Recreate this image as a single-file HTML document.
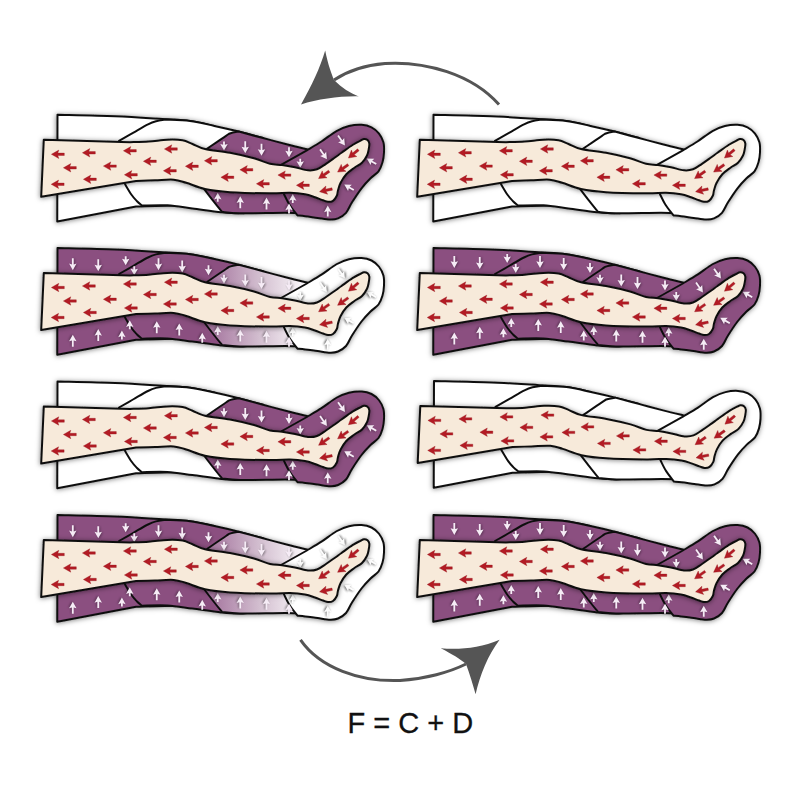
<!DOCTYPE html>
<html><head><meta charset="utf-8"><style>
html,body{margin:0;padding:0;background:#fff;}
body{width:800px;height:800px;overflow:hidden;position:relative;}
svg{position:absolute;left:0;top:0;}
.t{position:absolute;left:347.5px;top:707px;white-space:pre;font-family:"Liberation Sans",sans-serif;font-size:29px;line-height:normal;color:#111;-webkit-text-stroke:0.3px #111;}
</style></head><body>
<svg width="800" height="800" viewBox="0 0 800 800">
<defs>
<filter id="sh" x="-10%" y="-20%" width="120%" height="150%">
  <feDropShadow dx="-0.3" dy="0.6" stdDeviation="2.4" flood-color="#000" flood-opacity="0.5"/>
</filter>
<filter id="ab" x="-50%" y="-50%" width="200%" height="200%"><feGaussianBlur stdDeviation="0.8"/></filter>
<linearGradient id="gradL2" gradientUnits="userSpaceOnUse" x1="205" y1="0" x2="305" y2="0">
  <stop offset="0" stop-color="#a06d99"/><stop offset="0.55" stop-color="#d3bfd0"/><stop offset="1" stop-color="#fbf8fb"/>
</linearGradient>
<linearGradient id="gradL4" gradientUnits="userSpaceOnUse" x1="205" y1="0" x2="305" y2="0">
  <stop offset="0" stop-color="#a06d99"/><stop offset="0.55" stop-color="#d3bfd0"/><stop offset="1" stop-color="#fbf8fb"/>
</linearGradient>
</defs>
<g transform="translate(0.00,0.30)">
<g filter="url(#sh)">
<path d="M57.50,114.50 C67.08,114.75 97.50,115.29 115.00,116.00 C132.50,116.71 150.00,117.97 162.50,118.75 C175.00,119.53 181.35,119.56 190.00,120.70 C198.65,121.84 210.33,124.78 214.40,125.60 L214.40,207.00 C208.67,206.72 193.07,205.43 180.00,205.30 C166.93,205.18 143.33,206.09 136.00,206.25 L57.25,221.30 L57.50,114.50 Z" fill="#fff" stroke="#111" stroke-width="2.00" stroke-linejoin="round"/>
<path d="M119.00,140.50 C121.33,139.17 128.17,135.25 133.00,132.50 C137.83,129.75 144.17,125.93 148.00,124.00 C151.83,122.07 153.00,121.68 156.00,120.90 C159.00,120.12 164.33,119.57 166.00,119.30 C170.00,119.53 181.93,119.65 190.00,120.70 C198.07,121.75 206.28,123.84 214.40,125.60 C222.53,127.36 230.65,129.22 238.75,131.25 C246.85,133.28 258.96,136.67 263.00,137.75 L263.00,211.00 C259.17,211.33 246.96,212.85 240.00,213.00 C233.04,213.15 229.17,212.72 221.25,211.90 C213.33,211.08 201.46,209.25 192.50,208.10 C183.54,206.95 175.92,205.48 167.50,205.00 C159.08,204.52 146.25,205.17 142.00,205.20 C141.12,204.45 138.50,202.48 136.75,200.70 C135.00,198.92 133.54,197.45 131.50,194.50 C129.46,191.55 125.67,184.92 124.50,183.00 L119.00,140.50 Z" fill="#fff" stroke="#111" stroke-width="2.00" stroke-linejoin="round"/>
<path d="M206.25,149.00 C209.54,146.75 221.94,138.18 226.00,135.50 C230.06,132.82 228.47,133.61 230.60,132.90 C232.72,132.19 237.39,131.53 238.75,131.25 C242.79,132.33 254.88,135.58 263.00,137.75 C271.12,139.92 280.17,142.38 287.50,144.25 C294.83,146.12 303.75,148.21 307.00,149.00 L307.00,213.00 C303.33,212.92 296.17,212.50 285.00,212.50 C273.83,212.50 250.50,213.17 240.00,213.00 C229.50,212.83 225.00,211.75 222.00,211.50 C220.33,209.42 215.00,202.83 212.00,199.00 C209.00,195.17 205.33,190.25 204.00,188.50 L206.25,149.00 Z" fill="#8b4f80" stroke="#111" stroke-width="2.00" stroke-linejoin="round"/>
<path d="M281.00,164.50 L306.90,150.00 C309.33,148.53 316.57,144.41 321.50,141.20 C326.43,137.99 331.92,133.32 336.50,130.75 C341.08,128.18 344.83,126.79 349.00,125.75 C353.17,124.71 357.75,124.29 361.50,124.50 C365.25,124.71 368.58,125.54 371.50,127.00 C374.42,128.46 377.02,130.75 379.00,133.25 C380.98,135.75 382.57,138.88 383.40,142.00 C384.23,145.12 384.15,148.67 384.00,152.00 C383.85,155.33 383.42,158.83 382.50,162.00 C381.58,165.17 380.50,168.33 378.50,171.00 C376.50,173.67 373.33,175.17 370.50,178.00 C367.67,180.83 364.58,184.00 361.50,188.00 C358.42,192.00 354.58,197.92 352.00,202.00 C349.42,206.08 348.33,209.83 346.00,212.50 C343.67,215.17 340.62,216.88 338.00,218.00 C335.38,219.12 333.62,219.27 330.25,219.20 C326.88,219.13 321.92,218.15 317.75,217.60 C313.58,217.05 308.62,216.30 305.25,215.90 C301.88,215.50 298.79,215.32 297.50,215.20 C296.17,213.42 291.75,208.05 289.50,204.50 C287.25,200.95 284.92,195.67 284.00,193.90 L281.00,164.50 Z" fill="#8b4f80" stroke="#111" stroke-width="2.00" stroke-linejoin="round"/>
</g>
<g transform="translate(224.00,145.70) rotate(0.0)"><path d="M-0.9,-4.50 L0.9,-4.50 L0.9,-1.30 L3.7,-2.10 L0,4.50 L-3.7,-2.10 L-0.9,-1.30 Z" fill="#000" opacity="0.35" transform="translate(1.0,0.5)" filter="url(#ab)"/><path d="M-0.9,-4.50 L0.9,-4.50 L0.9,-1.30 L3.7,-2.10 L0,4.50 L-3.7,-2.10 L-0.9,-1.30 Z" fill="#f6ecf6"/></g>
<g transform="translate(245.25,147.00) rotate(0.0)"><path d="M-0.9,-6.00 L0.9,-6.00 L0.9,0.20 L3.7,-0.60 L0,6.00 L-3.7,-0.60 L-0.9,0.20 Z" fill="#000" opacity="0.35" transform="translate(1.0,0.5)" filter="url(#ab)"/><path d="M-0.9,-6.00 L0.9,-6.00 L0.9,0.20 L3.7,-0.60 L0,6.00 L-3.7,-0.60 L-0.9,0.20 Z" fill="#f6ecf6"/></g>
<g transform="translate(261.50,149.50) rotate(0.0)"><path d="M-0.9,-6.00 L0.9,-6.00 L0.9,0.20 L3.7,-0.60 L0,6.00 L-3.7,-0.60 L-0.9,0.20 Z" fill="#000" opacity="0.35" transform="translate(1.0,0.5)" filter="url(#ab)"/><path d="M-0.9,-6.00 L0.9,-6.00 L0.9,0.20 L3.7,-0.60 L0,6.00 L-3.7,-0.60 L-0.9,0.20 Z" fill="#f6ecf6"/></g>
<g transform="translate(289.00,152.00) rotate(0.0)"><path d="M-0.9,-5.00 L0.9,-5.00 L0.9,-0.80 L3.7,-1.60 L0,5.00 L-3.7,-1.60 L-0.9,-0.80 Z" fill="#000" opacity="0.35" transform="translate(1.0,0.5)" filter="url(#ab)"/><path d="M-0.9,-5.00 L0.9,-5.00 L0.9,-0.80 L3.7,-1.60 L0,5.00 L-3.7,-1.60 L-0.9,-0.80 Z" fill="#f6ecf6"/></g>
<g transform="translate(300.25,163.00) rotate(0.0)"><path d="M-0.9,-4.50 L0.9,-4.50 L0.9,-1.30 L3.7,-2.10 L0,4.50 L-3.7,-2.10 L-0.9,-1.30 Z" fill="#000" opacity="0.35" transform="translate(1.0,0.5)" filter="url(#ab)"/><path d="M-0.9,-4.50 L0.9,-4.50 L0.9,-1.30 L3.7,-2.10 L0,4.50 L-3.7,-2.10 L-0.9,-1.30 Z" fill="#f6ecf6"/></g>
<g transform="translate(323.50,154.00) rotate(-35.0)"><path d="M-0.9,-6.00 L0.9,-6.00 L0.9,0.20 L3.7,-0.60 L0,6.00 L-3.7,-0.60 L-0.9,0.20 Z" fill="#000" opacity="0.35" transform="translate(1.0,0.5)" filter="url(#ab)"/><path d="M-0.9,-6.00 L0.9,-6.00 L0.9,0.20 L3.7,-0.60 L0,6.00 L-3.7,-0.60 L-0.9,0.20 Z" fill="#f6ecf6"/></g>
<g transform="translate(341.50,140.20) rotate(-35.0)"><path d="M-0.9,-6.00 L0.9,-6.00 L0.9,0.20 L3.7,-0.60 L0,6.00 L-3.7,-0.60 L-0.9,0.20 Z" fill="#000" opacity="0.35" transform="translate(1.0,0.5)" filter="url(#ab)"/><path d="M-0.9,-6.00 L0.9,-6.00 L0.9,0.20 L3.7,-0.60 L0,6.00 L-3.7,-0.60 L-0.9,0.20 Z" fill="#f6ecf6"/></g>
<g transform="translate(371.50,161.00) rotate(120.0)"><path d="M-0.9,-5.50 L0.9,-5.50 L0.9,-0.30 L3.7,-1.10 L0,5.50 L-3.7,-1.10 L-0.9,-0.30 Z" fill="#000" opacity="0.35" transform="translate(1.0,0.5)" filter="url(#ab)"/><path d="M-0.9,-5.50 L0.9,-5.50 L0.9,-0.30 L3.7,-1.10 L0,5.50 L-3.7,-1.10 L-0.9,-0.30 Z" fill="#f6ecf6"/></g>
<g transform="translate(349.00,187.00) rotate(120.0)"><path d="M-0.9,-5.50 L0.9,-5.50 L0.9,-0.30 L3.7,-1.10 L0,5.50 L-3.7,-1.10 L-0.9,-0.30 Z" fill="#000" opacity="0.35" transform="translate(1.0,0.5)" filter="url(#ab)"/><path d="M-0.9,-5.50 L0.9,-5.50 L0.9,-0.30 L3.7,-1.10 L0,5.50 L-3.7,-1.10 L-0.9,-0.30 Z" fill="#f6ecf6"/></g>
<g transform="translate(217.75,197.00) rotate(180.0)"><path d="M-0.9,-4.50 L0.9,-4.50 L0.9,-1.30 L3.7,-2.10 L0,4.50 L-3.7,-2.10 L-0.9,-1.30 Z" fill="#000" opacity="0.35" transform="translate(1.0,0.5)" filter="url(#ab)"/><path d="M-0.9,-4.50 L0.9,-4.50 L0.9,-1.30 L3.7,-2.10 L0,4.50 L-3.7,-2.10 L-0.9,-1.30 Z" fill="#f6ecf6"/></g>
<g transform="translate(240.25,202.00) rotate(180.0)"><path d="M-0.9,-6.00 L0.9,-6.00 L0.9,0.20 L3.7,-0.60 L0,6.00 L-3.7,-0.60 L-0.9,0.20 Z" fill="#000" opacity="0.35" transform="translate(1.0,0.5)" filter="url(#ab)"/><path d="M-0.9,-6.00 L0.9,-6.00 L0.9,0.20 L3.7,-0.60 L0,6.00 L-3.7,-0.60 L-0.9,0.20 Z" fill="#f6ecf6"/></g>
<g transform="translate(266.50,203.25) rotate(180.0)"><path d="M-0.9,-6.00 L0.9,-6.00 L0.9,0.20 L3.7,-0.60 L0,6.00 L-3.7,-0.60 L-0.9,0.20 Z" fill="#000" opacity="0.35" transform="translate(1.0,0.5)" filter="url(#ab)"/><path d="M-0.9,-6.00 L0.9,-6.00 L0.9,0.20 L3.7,-0.60 L0,6.00 L-3.7,-0.60 L-0.9,0.20 Z" fill="#f6ecf6"/></g>
<g transform="translate(289.00,208.25) rotate(180.0)"><path d="M-0.9,-5.00 L0.9,-5.00 L0.9,-0.80 L3.7,-1.60 L0,5.00 L-3.7,-1.60 L-0.9,-0.80 Z" fill="#000" opacity="0.35" transform="translate(1.0,0.5)" filter="url(#ab)"/><path d="M-0.9,-5.00 L0.9,-5.00 L0.9,-0.80 L3.7,-1.60 L0,5.00 L-3.7,-1.60 L-0.9,-0.80 Z" fill="#f6ecf6"/></g>
<g transform="translate(292.75,198.25) rotate(180.0)"><path d="M-0.9,-4.50 L0.9,-4.50 L0.9,-1.30 L3.7,-2.10 L0,4.50 L-3.7,-2.10 L-0.9,-1.30 Z" fill="#000" opacity="0.35" transform="translate(1.0,0.5)" filter="url(#ab)"/><path d="M-0.9,-4.50 L0.9,-4.50 L0.9,-1.30 L3.7,-2.10 L0,4.50 L-3.7,-2.10 L-0.9,-1.30 Z" fill="#f6ecf6"/></g>
<g transform="translate(327.75,210.75) rotate(180.0)"><path d="M-0.9,-5.50 L0.9,-5.50 L0.9,-0.30 L3.7,-1.10 L0,5.50 L-3.7,-1.10 L-0.9,-0.30 Z" fill="#000" opacity="0.35" transform="translate(1.0,0.5)" filter="url(#ab)"/><path d="M-0.9,-5.50 L0.9,-5.50 L0.9,-0.30 L3.7,-1.10 L0,5.50 L-3.7,-1.10 L-0.9,-0.30 Z" fill="#f6ecf6"/></g>
<path d="M43.80,139.50 L130.00,141.90 C133.12,141.79 142.50,141.67 148.75,141.25 C155.00,140.83 161.88,139.61 167.50,139.40 C173.12,139.19 178.33,139.28 182.50,140.00 C186.67,140.72 188.75,142.29 192.50,143.75 C196.25,145.21 198.75,147.29 205.00,148.75 C211.25,150.21 221.83,150.96 230.00,152.50 C238.17,154.04 247.33,156.17 254.00,158.00 C260.67,159.83 265.33,162.38 270.00,163.50 C274.67,164.62 277.83,164.12 282.00,164.70 C286.17,165.28 290.67,166.12 295.00,167.00 C299.33,167.88 304.33,169.67 308.00,170.00 C311.67,170.33 314.00,170.08 317.00,169.00 C320.00,167.92 323.00,165.47 326.00,163.50 C329.00,161.53 332.42,159.03 335.00,157.20 C337.58,155.37 338.58,154.58 341.50,152.50 C344.42,150.42 349.33,146.73 352.50,144.70 C355.67,142.67 358.58,141.28 360.50,140.30 C362.42,139.32 362.83,138.88 364.00,138.80 C365.17,138.72 366.62,139.07 367.50,139.80 C368.38,140.53 369.10,141.67 369.30,143.20 C369.50,144.73 369.08,147.00 368.70,149.00 C368.32,151.00 368.12,152.95 367.00,155.20 C365.88,157.45 364.10,160.45 362.00,162.50 C359.90,164.55 357.02,165.58 354.40,167.50 C351.78,169.42 348.62,171.47 346.30,174.00 C343.98,176.53 341.88,180.03 340.50,182.70 C339.12,185.37 338.62,187.87 338.00,190.00 C337.38,192.13 337.63,193.75 336.80,195.50 C335.97,197.25 334.47,199.50 333.00,200.50 C331.53,201.50 329.67,201.58 328.00,201.50 C326.33,201.42 325.17,200.75 323.00,200.00 C320.83,199.25 318.00,198.00 315.00,197.00 C312.00,196.00 309.17,194.75 305.00,194.00 C300.83,193.25 295.83,192.67 290.00,192.50 C284.17,192.33 280.00,193.10 270.00,193.00 C260.00,192.90 240.83,192.61 230.00,191.90 C219.17,191.19 212.29,190.32 205.00,188.75 C197.71,187.18 191.46,184.06 186.25,182.50 C181.04,180.94 178.96,179.82 173.75,179.40 C168.54,178.98 161.29,179.80 155.00,180.00 C148.71,180.20 139.17,180.50 136.00,180.60 L41.20,196.50 L43.80,139.50 Z" fill="#f7eada" stroke="#111" stroke-width="2.00" stroke-linejoin="round" filter="url(#sh)"/>
<g transform="translate(58.00,154.00) rotate(0.0)"><path d="M-6.6,0 L0.8,-4.2 L-0.2,-1.2 L6.3,-1.2 L6.3,1.2 L-0.2,1.2 L0.8,4.2 Z" fill="#b31b24" stroke="#94131b" stroke-width="0.35" stroke-linejoin="round"/></g>
<g transform="translate(89.00,152.50) rotate(0.0)"><path d="M-6.6,0 L0.8,-4.2 L-0.2,-1.2 L6.3,-1.2 L6.3,1.2 L-0.2,1.2 L0.8,4.2 Z" fill="#b31b24" stroke="#94131b" stroke-width="0.35" stroke-linejoin="round"/></g>
<g transform="translate(130.00,150.50) rotate(0.0)"><path d="M-6.6,0 L0.8,-4.2 L-0.2,-1.2 L6.3,-1.2 L6.3,1.2 L-0.2,1.2 L0.8,4.2 Z" fill="#b31b24" stroke="#94131b" stroke-width="0.35" stroke-linejoin="round"/></g>
<g transform="translate(171.00,148.70) rotate(0.0)"><path d="M-6.6,0 L0.8,-4.2 L-0.2,-1.2 L6.3,-1.2 L6.3,1.2 L-0.2,1.2 L0.8,4.2 Z" fill="#b31b24" stroke="#94131b" stroke-width="0.35" stroke-linejoin="round"/></g>
<g transform="translate(70.00,167.50) rotate(0.0)"><path d="M-6.6,0 L0.8,-4.2 L-0.2,-1.2 L6.3,-1.2 L6.3,1.2 L-0.2,1.2 L0.8,4.2 Z" fill="#b31b24" stroke="#94131b" stroke-width="0.35" stroke-linejoin="round"/></g>
<g transform="translate(110.00,165.80) rotate(0.0)"><path d="M-6.6,0 L0.8,-4.2 L-0.2,-1.2 L6.3,-1.2 L6.3,1.2 L-0.2,1.2 L0.8,4.2 Z" fill="#b31b24" stroke="#94131b" stroke-width="0.35" stroke-linejoin="round"/></g>
<g transform="translate(150.00,161.00) rotate(0.0)"><path d="M-6.6,0 L0.8,-4.2 L-0.2,-1.2 L6.3,-1.2 L6.3,1.2 L-0.2,1.2 L0.8,4.2 Z" fill="#b31b24" stroke="#94131b" stroke-width="0.35" stroke-linejoin="round"/></g>
<g transform="translate(192.00,166.00) rotate(0.0)"><path d="M-6.6,0 L0.8,-4.2 L-0.2,-1.2 L6.3,-1.2 L6.3,1.2 L-0.2,1.2 L0.8,4.2 Z" fill="#b31b24" stroke="#94131b" stroke-width="0.35" stroke-linejoin="round"/></g>
<g transform="translate(211.00,160.50) rotate(0.0)"><path d="M-6.6,0 L0.8,-4.2 L-0.2,-1.2 L6.3,-1.2 L6.3,1.2 L-0.2,1.2 L0.8,4.2 Z" fill="#b31b24" stroke="#94131b" stroke-width="0.35" stroke-linejoin="round"/></g>
<g transform="translate(57.80,184.00) rotate(0.0)"><path d="M-6.6,0 L0.8,-4.2 L-0.2,-1.2 L6.3,-1.2 L6.3,1.2 L-0.2,1.2 L0.8,4.2 Z" fill="#b31b24" stroke="#94131b" stroke-width="0.35" stroke-linejoin="round"/></g>
<g transform="translate(90.00,179.00) rotate(0.0)"><path d="M-6.6,0 L0.8,-4.2 L-0.2,-1.2 L6.3,-1.2 L6.3,1.2 L-0.2,1.2 L0.8,4.2 Z" fill="#b31b24" stroke="#94131b" stroke-width="0.35" stroke-linejoin="round"/></g>
<g transform="translate(131.00,174.50) rotate(0.0)"><path d="M-6.6,0 L0.8,-4.2 L-0.2,-1.2 L6.3,-1.2 L6.3,1.2 L-0.2,1.2 L0.8,4.2 Z" fill="#b31b24" stroke="#94131b" stroke-width="0.35" stroke-linejoin="round"/></g>
<g transform="translate(170.00,170.50) rotate(0.0)"><path d="M-6.6,0 L0.8,-4.2 L-0.2,-1.2 L6.3,-1.2 L6.3,1.2 L-0.2,1.2 L0.8,4.2 Z" fill="#b31b24" stroke="#94131b" stroke-width="0.35" stroke-linejoin="round"/></g>
<g transform="translate(227.50,177.00) rotate(0.0)"><path d="M-6.6,0 L0.8,-4.2 L-0.2,-1.2 L6.3,-1.2 L6.3,1.2 L-0.2,1.2 L0.8,4.2 Z" fill="#b31b24" stroke="#94131b" stroke-width="0.35" stroke-linejoin="round"/></g>
<g transform="translate(246.50,169.50) rotate(0.0)"><path d="M-6.6,0 L0.8,-4.2 L-0.2,-1.2 L6.3,-1.2 L6.3,1.2 L-0.2,1.2 L0.8,4.2 Z" fill="#b31b24" stroke="#94131b" stroke-width="0.35" stroke-linejoin="round"/></g>
<g transform="translate(263.00,183.50) rotate(0.0)"><path d="M-6.6,0 L0.8,-4.2 L-0.2,-1.2 L6.3,-1.2 L6.3,1.2 L-0.2,1.2 L0.8,4.2 Z" fill="#b31b24" stroke="#94131b" stroke-width="0.35" stroke-linejoin="round"/></g>
<g transform="translate(284.50,174.80) rotate(0.0)"><path d="M-6.6,0 L0.8,-4.2 L-0.2,-1.2 L6.3,-1.2 L6.3,1.2 L-0.2,1.2 L0.8,4.2 Z" fill="#b31b24" stroke="#94131b" stroke-width="0.35" stroke-linejoin="round"/></g>
<g transform="translate(303.00,185.00) rotate(0.0)"><path d="M-6.6,0 L0.8,-4.2 L-0.2,-1.2 L6.3,-1.2 L6.3,1.2 L-0.2,1.2 L0.8,4.2 Z" fill="#b31b24" stroke="#94131b" stroke-width="0.35" stroke-linejoin="round"/></g>
<g transform="translate(324.00,174.50) rotate(-35.0)"><path d="M-6.6,0 L0.8,-4.2 L-0.2,-1.2 L6.3,-1.2 L6.3,1.2 L-0.2,1.2 L0.8,4.2 Z" fill="#b31b24" stroke="#94131b" stroke-width="0.35" stroke-linejoin="round"/></g>
<g transform="translate(343.00,168.00) rotate(-35.0)"><path d="M-6.6,0 L0.8,-4.2 L-0.2,-1.2 L6.3,-1.2 L6.3,1.2 L-0.2,1.2 L0.8,4.2 Z" fill="#b31b24" stroke="#94131b" stroke-width="0.35" stroke-linejoin="round"/></g>
<g transform="translate(353.50,153.50) rotate(-40.0)"><path d="M-6.6,0 L0.8,-4.2 L-0.2,-1.2 L6.3,-1.2 L6.3,1.2 L-0.2,1.2 L0.8,4.2 Z" fill="#b31b24" stroke="#94131b" stroke-width="0.35" stroke-linejoin="round"/></g>
<g transform="translate(326.00,190.00) rotate(-12.0)"><path d="M-6.6,0 L0.8,-4.2 L-0.2,-1.2 L6.3,-1.2 L6.3,1.2 L-0.2,1.2 L0.8,4.2 Z" fill="#b31b24" stroke="#94131b" stroke-width="0.35" stroke-linejoin="round"/></g>
</g>
<g transform="translate(376.00,0.30)">
<g filter="url(#sh)">
<path d="M57.50,114.50 C67.08,114.75 97.50,115.29 115.00,116.00 C132.50,116.71 150.00,117.97 162.50,118.75 C175.00,119.53 181.35,119.56 190.00,120.70 C198.65,121.84 210.33,124.78 214.40,125.60 L214.40,207.00 C208.67,206.72 193.07,205.43 180.00,205.30 C166.93,205.18 143.33,206.09 136.00,206.25 L57.25,221.30 L57.50,114.50 Z" fill="#fff" stroke="#111" stroke-width="2.00" stroke-linejoin="round"/>
<path d="M119.00,140.50 C121.33,139.17 128.17,135.25 133.00,132.50 C137.83,129.75 144.17,125.93 148.00,124.00 C151.83,122.07 153.00,121.68 156.00,120.90 C159.00,120.12 164.33,119.57 166.00,119.30 C170.00,119.53 181.93,119.65 190.00,120.70 C198.07,121.75 206.28,123.84 214.40,125.60 C222.53,127.36 230.65,129.22 238.75,131.25 C246.85,133.28 258.96,136.67 263.00,137.75 L263.00,211.00 C259.17,211.33 246.96,212.85 240.00,213.00 C233.04,213.15 229.17,212.72 221.25,211.90 C213.33,211.08 201.46,209.25 192.50,208.10 C183.54,206.95 175.92,205.48 167.50,205.00 C159.08,204.52 146.25,205.17 142.00,205.20 C141.12,204.45 138.50,202.48 136.75,200.70 C135.00,198.92 133.54,197.45 131.50,194.50 C129.46,191.55 125.67,184.92 124.50,183.00 L119.00,140.50 Z" fill="#fff" stroke="#111" stroke-width="2.00" stroke-linejoin="round"/>
<path d="M206.25,149.00 C209.54,146.75 221.94,138.18 226.00,135.50 C230.06,132.82 228.47,133.61 230.60,132.90 C232.72,132.19 237.39,131.53 238.75,131.25 C242.79,132.33 254.88,135.58 263.00,137.75 C271.12,139.92 280.17,142.38 287.50,144.25 C294.83,146.12 303.75,148.21 307.00,149.00 L307.00,213.00 C303.33,212.92 296.17,212.50 285.00,212.50 C273.83,212.50 250.50,213.17 240.00,213.00 C229.50,212.83 225.00,211.75 222.00,211.50 C220.33,209.42 215.00,202.83 212.00,199.00 C209.00,195.17 205.33,190.25 204.00,188.50 L206.25,149.00 Z" fill="#fff" stroke="#111" stroke-width="2.00" stroke-linejoin="round"/>
<path d="M281.00,164.50 L306.90,150.00 C309.33,148.53 316.57,144.41 321.50,141.20 C326.43,137.99 331.92,133.32 336.50,130.75 C341.08,128.18 344.83,126.79 349.00,125.75 C353.17,124.71 357.75,124.29 361.50,124.50 C365.25,124.71 368.58,125.54 371.50,127.00 C374.42,128.46 377.02,130.75 379.00,133.25 C380.98,135.75 382.57,138.88 383.40,142.00 C384.23,145.12 384.15,148.67 384.00,152.00 C383.85,155.33 383.42,158.83 382.50,162.00 C381.58,165.17 380.50,168.33 378.50,171.00 C376.50,173.67 373.33,175.17 370.50,178.00 C367.67,180.83 364.58,184.00 361.50,188.00 C358.42,192.00 354.58,197.92 352.00,202.00 C349.42,206.08 348.33,209.83 346.00,212.50 C343.67,215.17 340.62,216.88 338.00,218.00 C335.38,219.12 333.62,219.27 330.25,219.20 C326.88,219.13 321.92,218.15 317.75,217.60 C313.58,217.05 308.62,216.30 305.25,215.90 C301.88,215.50 298.79,215.32 297.50,215.20 C296.17,213.42 291.75,208.05 289.50,204.50 C287.25,200.95 284.92,195.67 284.00,193.90 L281.00,164.50 Z" fill="#fff" stroke="#111" stroke-width="2.00" stroke-linejoin="round"/>
</g>
<path d="M43.80,139.50 L130.00,141.90 C133.12,141.79 142.50,141.67 148.75,141.25 C155.00,140.83 161.88,139.61 167.50,139.40 C173.12,139.19 178.33,139.28 182.50,140.00 C186.67,140.72 188.75,142.29 192.50,143.75 C196.25,145.21 198.75,147.29 205.00,148.75 C211.25,150.21 221.83,150.96 230.00,152.50 C238.17,154.04 247.33,156.17 254.00,158.00 C260.67,159.83 265.33,162.38 270.00,163.50 C274.67,164.62 277.83,164.12 282.00,164.70 C286.17,165.28 290.67,166.12 295.00,167.00 C299.33,167.88 304.33,169.67 308.00,170.00 C311.67,170.33 314.00,170.08 317.00,169.00 C320.00,167.92 323.00,165.47 326.00,163.50 C329.00,161.53 332.42,159.03 335.00,157.20 C337.58,155.37 338.58,154.58 341.50,152.50 C344.42,150.42 349.33,146.73 352.50,144.70 C355.67,142.67 358.58,141.28 360.50,140.30 C362.42,139.32 362.83,138.88 364.00,138.80 C365.17,138.72 366.62,139.07 367.50,139.80 C368.38,140.53 369.10,141.67 369.30,143.20 C369.50,144.73 369.08,147.00 368.70,149.00 C368.32,151.00 368.12,152.95 367.00,155.20 C365.88,157.45 364.10,160.45 362.00,162.50 C359.90,164.55 357.02,165.58 354.40,167.50 C351.78,169.42 348.62,171.47 346.30,174.00 C343.98,176.53 341.88,180.03 340.50,182.70 C339.12,185.37 338.62,187.87 338.00,190.00 C337.38,192.13 337.63,193.75 336.80,195.50 C335.97,197.25 334.47,199.50 333.00,200.50 C331.53,201.50 329.67,201.58 328.00,201.50 C326.33,201.42 325.17,200.75 323.00,200.00 C320.83,199.25 318.00,198.00 315.00,197.00 C312.00,196.00 309.17,194.75 305.00,194.00 C300.83,193.25 295.83,192.67 290.00,192.50 C284.17,192.33 280.00,193.10 270.00,193.00 C260.00,192.90 240.83,192.61 230.00,191.90 C219.17,191.19 212.29,190.32 205.00,188.75 C197.71,187.18 191.46,184.06 186.25,182.50 C181.04,180.94 178.96,179.82 173.75,179.40 C168.54,178.98 161.29,179.80 155.00,180.00 C148.71,180.20 139.17,180.50 136.00,180.60 L41.20,196.50 L43.80,139.50 Z" fill="#f7eada" stroke="#111" stroke-width="2.00" stroke-linejoin="round" filter="url(#sh)"/>
<g transform="translate(58.00,154.00) rotate(0.0)"><path d="M-6.6,0 L0.8,-4.2 L-0.2,-1.2 L6.3,-1.2 L6.3,1.2 L-0.2,1.2 L0.8,4.2 Z" fill="#b31b24" stroke="#94131b" stroke-width="0.35" stroke-linejoin="round"/></g>
<g transform="translate(89.00,152.50) rotate(0.0)"><path d="M-6.6,0 L0.8,-4.2 L-0.2,-1.2 L6.3,-1.2 L6.3,1.2 L-0.2,1.2 L0.8,4.2 Z" fill="#b31b24" stroke="#94131b" stroke-width="0.35" stroke-linejoin="round"/></g>
<g transform="translate(130.00,150.50) rotate(0.0)"><path d="M-6.6,0 L0.8,-4.2 L-0.2,-1.2 L6.3,-1.2 L6.3,1.2 L-0.2,1.2 L0.8,4.2 Z" fill="#b31b24" stroke="#94131b" stroke-width="0.35" stroke-linejoin="round"/></g>
<g transform="translate(171.00,148.70) rotate(0.0)"><path d="M-6.6,0 L0.8,-4.2 L-0.2,-1.2 L6.3,-1.2 L6.3,1.2 L-0.2,1.2 L0.8,4.2 Z" fill="#b31b24" stroke="#94131b" stroke-width="0.35" stroke-linejoin="round"/></g>
<g transform="translate(70.00,167.50) rotate(0.0)"><path d="M-6.6,0 L0.8,-4.2 L-0.2,-1.2 L6.3,-1.2 L6.3,1.2 L-0.2,1.2 L0.8,4.2 Z" fill="#b31b24" stroke="#94131b" stroke-width="0.35" stroke-linejoin="round"/></g>
<g transform="translate(110.00,165.80) rotate(0.0)"><path d="M-6.6,0 L0.8,-4.2 L-0.2,-1.2 L6.3,-1.2 L6.3,1.2 L-0.2,1.2 L0.8,4.2 Z" fill="#b31b24" stroke="#94131b" stroke-width="0.35" stroke-linejoin="round"/></g>
<g transform="translate(150.00,161.00) rotate(0.0)"><path d="M-6.6,0 L0.8,-4.2 L-0.2,-1.2 L6.3,-1.2 L6.3,1.2 L-0.2,1.2 L0.8,4.2 Z" fill="#b31b24" stroke="#94131b" stroke-width="0.35" stroke-linejoin="round"/></g>
<g transform="translate(192.00,166.00) rotate(0.0)"><path d="M-6.6,0 L0.8,-4.2 L-0.2,-1.2 L6.3,-1.2 L6.3,1.2 L-0.2,1.2 L0.8,4.2 Z" fill="#b31b24" stroke="#94131b" stroke-width="0.35" stroke-linejoin="round"/></g>
<g transform="translate(211.00,160.50) rotate(0.0)"><path d="M-6.6,0 L0.8,-4.2 L-0.2,-1.2 L6.3,-1.2 L6.3,1.2 L-0.2,1.2 L0.8,4.2 Z" fill="#b31b24" stroke="#94131b" stroke-width="0.35" stroke-linejoin="round"/></g>
<g transform="translate(57.80,184.00) rotate(0.0)"><path d="M-6.6,0 L0.8,-4.2 L-0.2,-1.2 L6.3,-1.2 L6.3,1.2 L-0.2,1.2 L0.8,4.2 Z" fill="#b31b24" stroke="#94131b" stroke-width="0.35" stroke-linejoin="round"/></g>
<g transform="translate(90.00,179.00) rotate(0.0)"><path d="M-6.6,0 L0.8,-4.2 L-0.2,-1.2 L6.3,-1.2 L6.3,1.2 L-0.2,1.2 L0.8,4.2 Z" fill="#b31b24" stroke="#94131b" stroke-width="0.35" stroke-linejoin="round"/></g>
<g transform="translate(131.00,174.50) rotate(0.0)"><path d="M-6.6,0 L0.8,-4.2 L-0.2,-1.2 L6.3,-1.2 L6.3,1.2 L-0.2,1.2 L0.8,4.2 Z" fill="#b31b24" stroke="#94131b" stroke-width="0.35" stroke-linejoin="round"/></g>
<g transform="translate(170.00,170.50) rotate(0.0)"><path d="M-6.6,0 L0.8,-4.2 L-0.2,-1.2 L6.3,-1.2 L6.3,1.2 L-0.2,1.2 L0.8,4.2 Z" fill="#b31b24" stroke="#94131b" stroke-width="0.35" stroke-linejoin="round"/></g>
<g transform="translate(227.50,177.00) rotate(0.0)"><path d="M-6.6,0 L0.8,-4.2 L-0.2,-1.2 L6.3,-1.2 L6.3,1.2 L-0.2,1.2 L0.8,4.2 Z" fill="#b31b24" stroke="#94131b" stroke-width="0.35" stroke-linejoin="round"/></g>
<g transform="translate(246.50,169.50) rotate(0.0)"><path d="M-6.6,0 L0.8,-4.2 L-0.2,-1.2 L6.3,-1.2 L6.3,1.2 L-0.2,1.2 L0.8,4.2 Z" fill="#b31b24" stroke="#94131b" stroke-width="0.35" stroke-linejoin="round"/></g>
<g transform="translate(263.00,183.50) rotate(0.0)"><path d="M-6.6,0 L0.8,-4.2 L-0.2,-1.2 L6.3,-1.2 L6.3,1.2 L-0.2,1.2 L0.8,4.2 Z" fill="#b31b24" stroke="#94131b" stroke-width="0.35" stroke-linejoin="round"/></g>
<g transform="translate(284.50,174.80) rotate(0.0)"><path d="M-6.6,0 L0.8,-4.2 L-0.2,-1.2 L6.3,-1.2 L6.3,1.2 L-0.2,1.2 L0.8,4.2 Z" fill="#b31b24" stroke="#94131b" stroke-width="0.35" stroke-linejoin="round"/></g>
<g transform="translate(303.00,185.00) rotate(0.0)"><path d="M-6.6,0 L0.8,-4.2 L-0.2,-1.2 L6.3,-1.2 L6.3,1.2 L-0.2,1.2 L0.8,4.2 Z" fill="#b31b24" stroke="#94131b" stroke-width="0.35" stroke-linejoin="round"/></g>
<g transform="translate(324.00,174.50) rotate(-35.0)"><path d="M-6.6,0 L0.8,-4.2 L-0.2,-1.2 L6.3,-1.2 L6.3,1.2 L-0.2,1.2 L0.8,4.2 Z" fill="#b31b24" stroke="#94131b" stroke-width="0.35" stroke-linejoin="round"/></g>
<g transform="translate(343.00,168.00) rotate(-35.0)"><path d="M-6.6,0 L0.8,-4.2 L-0.2,-1.2 L6.3,-1.2 L6.3,1.2 L-0.2,1.2 L0.8,4.2 Z" fill="#b31b24" stroke="#94131b" stroke-width="0.35" stroke-linejoin="round"/></g>
<g transform="translate(353.50,153.50) rotate(-40.0)"><path d="M-6.6,0 L0.8,-4.2 L-0.2,-1.2 L6.3,-1.2 L6.3,1.2 L-0.2,1.2 L0.8,4.2 Z" fill="#b31b24" stroke="#94131b" stroke-width="0.35" stroke-linejoin="round"/></g>
<g transform="translate(326.00,190.00) rotate(-12.0)"><path d="M-6.6,0 L0.8,-4.2 L-0.2,-1.2 L6.3,-1.2 L6.3,1.2 L-0.2,1.2 L0.8,4.2 Z" fill="#b31b24" stroke="#94131b" stroke-width="0.35" stroke-linejoin="round"/></g>
</g>
<g transform="translate(0.00,133.50)">
<g filter="url(#sh)">
<path d="M57.50,114.50 C67.08,114.75 97.50,115.29 115.00,116.00 C132.50,116.71 150.00,117.97 162.50,118.75 C175.00,119.53 181.35,119.56 190.00,120.70 C198.65,121.84 210.33,124.78 214.40,125.60 L214.40,207.00 C208.67,206.72 193.07,205.43 180.00,205.30 C166.93,205.18 143.33,206.09 136.00,206.25 L57.25,221.30 L57.50,114.50 Z" fill="#8b4f80" stroke="#111" stroke-width="2.00" stroke-linejoin="round"/>
<path d="M119.00,140.50 C121.33,139.17 128.17,135.25 133.00,132.50 C137.83,129.75 144.17,125.93 148.00,124.00 C151.83,122.07 153.00,121.68 156.00,120.90 C159.00,120.12 164.33,119.57 166.00,119.30 C170.00,119.53 181.93,119.65 190.00,120.70 C198.07,121.75 206.28,123.84 214.40,125.60 C222.53,127.36 230.65,129.22 238.75,131.25 C246.85,133.28 258.96,136.67 263.00,137.75 L263.00,211.00 C259.17,211.33 246.96,212.85 240.00,213.00 C233.04,213.15 229.17,212.72 221.25,211.90 C213.33,211.08 201.46,209.25 192.50,208.10 C183.54,206.95 175.92,205.48 167.50,205.00 C159.08,204.52 146.25,205.17 142.00,205.20 C141.12,204.45 138.50,202.48 136.75,200.70 C135.00,198.92 133.54,197.45 131.50,194.50 C129.46,191.55 125.67,184.92 124.50,183.00 L119.00,140.50 Z" fill="#8b4f80" stroke="#111" stroke-width="2.00" stroke-linejoin="round"/>
<path d="M206.25,149.00 C209.54,146.75 221.94,138.18 226.00,135.50 C230.06,132.82 228.47,133.61 230.60,132.90 C232.72,132.19 237.39,131.53 238.75,131.25 C242.79,132.33 254.88,135.58 263.00,137.75 C271.12,139.92 280.17,142.38 287.50,144.25 C294.83,146.12 303.75,148.21 307.00,149.00 L307.00,213.00 C303.33,212.92 296.17,212.50 285.00,212.50 C273.83,212.50 250.50,213.17 240.00,213.00 C229.50,212.83 225.00,211.75 222.00,211.50 C220.33,209.42 215.00,202.83 212.00,199.00 C209.00,195.17 205.33,190.25 204.00,188.50 L206.25,149.00 Z" fill="url(#gradL2)" stroke="#111" stroke-width="2.00" stroke-linejoin="round"/>
<path d="M281.00,164.50 L306.90,150.00 C309.33,148.53 316.57,144.41 321.50,141.20 C326.43,137.99 331.92,133.32 336.50,130.75 C341.08,128.18 344.83,126.79 349.00,125.75 C353.17,124.71 357.75,124.29 361.50,124.50 C365.25,124.71 368.58,125.54 371.50,127.00 C374.42,128.46 377.02,130.75 379.00,133.25 C380.98,135.75 382.57,138.88 383.40,142.00 C384.23,145.12 384.15,148.67 384.00,152.00 C383.85,155.33 383.42,158.83 382.50,162.00 C381.58,165.17 380.50,168.33 378.50,171.00 C376.50,173.67 373.33,175.17 370.50,178.00 C367.67,180.83 364.58,184.00 361.50,188.00 C358.42,192.00 354.58,197.92 352.00,202.00 C349.42,206.08 348.33,209.83 346.00,212.50 C343.67,215.17 340.62,216.88 338.00,218.00 C335.38,219.12 333.62,219.27 330.25,219.20 C326.88,219.13 321.92,218.15 317.75,217.60 C313.58,217.05 308.62,216.30 305.25,215.90 C301.88,215.50 298.79,215.32 297.50,215.20 C296.17,213.42 291.75,208.05 289.50,204.50 C287.25,200.95 284.92,195.67 284.00,193.90 L281.00,164.50 Z" fill="#fff" stroke="#111" stroke-width="2.00" stroke-linejoin="round"/>
</g>
<g transform="translate(72.80,130.70) rotate(0.0)"><path d="M-0.9,-6.00 L0.9,-6.00 L0.9,0.20 L3.7,-0.60 L0,6.00 L-3.7,-0.60 L-0.9,0.20 Z" fill="#000" opacity="0.35" transform="translate(1.0,0.5)" filter="url(#ab)"/><path d="M-0.9,-6.00 L0.9,-6.00 L0.9,0.20 L3.7,-0.60 L0,6.00 L-3.7,-0.60 L-0.9,0.20 Z" fill="#f6ecf6"/></g>
<g transform="translate(98.25,131.80) rotate(0.0)"><path d="M-0.9,-6.00 L0.9,-6.00 L0.9,0.20 L3.7,-0.60 L0,6.00 L-3.7,-0.60 L-0.9,0.20 Z" fill="#000" opacity="0.35" transform="translate(1.0,0.5)" filter="url(#ab)"/><path d="M-0.9,-6.00 L0.9,-6.00 L0.9,0.20 L3.7,-0.60 L0,6.00 L-3.7,-0.60 L-0.9,0.20 Z" fill="#f6ecf6"/></g>
<g transform="translate(125.70,127.30) rotate(0.0)"><path d="M-0.9,-4.50 L0.9,-4.50 L0.9,-1.30 L3.7,-2.10 L0,4.50 L-3.7,-2.10 L-0.9,-1.30 Z" fill="#000" opacity="0.35" transform="translate(1.0,0.5)" filter="url(#ab)"/><path d="M-0.9,-4.50 L0.9,-4.50 L0.9,-1.30 L3.7,-2.10 L0,4.50 L-3.7,-2.10 L-0.9,-1.30 Z" fill="#f6ecf6"/></g>
<g transform="translate(134.25,137.30) rotate(0.0)"><path d="M-0.9,-4.50 L0.9,-4.50 L0.9,-1.30 L3.7,-2.10 L0,4.50 L-3.7,-2.10 L-0.9,-1.30 Z" fill="#000" opacity="0.35" transform="translate(1.0,0.5)" filter="url(#ab)"/><path d="M-0.9,-4.50 L0.9,-4.50 L0.9,-1.30 L3.7,-2.10 L0,4.50 L-3.7,-2.10 L-0.9,-1.30 Z" fill="#f6ecf6"/></g>
<g transform="translate(158.50,130.70) rotate(0.0)"><path d="M-0.9,-6.00 L0.9,-6.00 L0.9,0.20 L3.7,-0.60 L0,6.00 L-3.7,-0.60 L-0.9,0.20 Z" fill="#000" opacity="0.35" transform="translate(1.0,0.5)" filter="url(#ab)"/><path d="M-0.9,-6.00 L0.9,-6.00 L0.9,0.20 L3.7,-0.60 L0,6.00 L-3.7,-0.60 L-0.9,0.20 Z" fill="#f6ecf6"/></g>
<g transform="translate(182.20,132.90) rotate(0.0)"><path d="M-0.9,-6.00 L0.9,-6.00 L0.9,0.20 L3.7,-0.60 L0,6.00 L-3.7,-0.60 L-0.9,0.20 Z" fill="#000" opacity="0.35" transform="translate(1.0,0.5)" filter="url(#ab)"/><path d="M-0.9,-6.00 L0.9,-6.00 L0.9,0.20 L3.7,-0.60 L0,6.00 L-3.7,-0.60 L-0.9,0.20 Z" fill="#f6ecf6"/></g>
<g transform="translate(208.50,136.80) rotate(0.0)"><path d="M-0.9,-5.00 L0.9,-5.00 L0.9,-0.80 L3.7,-1.60 L0,5.00 L-3.7,-1.60 L-0.9,-0.80 Z" fill="#000" opacity="0.35" transform="translate(1.0,0.5)" filter="url(#ab)"/><path d="M-0.9,-5.00 L0.9,-5.00 L0.9,-0.80 L3.7,-1.60 L0,5.00 L-3.7,-1.60 L-0.9,-0.80 Z" fill="#f6ecf6"/></g>
<g transform="translate(224.00,145.70) rotate(0.0)"><path d="M-0.9,-4.50 L0.9,-4.50 L0.9,-1.30 L3.7,-2.10 L0,4.50 L-3.7,-2.10 L-0.9,-1.30 Z" fill="#000" opacity="0.37" transform="translate(1.0,0.5)" filter="url(#ab)"/><path d="M-0.9,-4.50 L0.9,-4.50 L0.9,-1.30 L3.7,-2.10 L0,4.50 L-3.7,-2.10 L-0.9,-1.30 Z" fill="#f6ecf6"/></g>
<g transform="translate(245.25,147.00) rotate(0.0)"><path d="M-0.9,-6.00 L0.9,-6.00 L0.9,0.20 L3.7,-0.60 L0,6.00 L-3.7,-0.60 L-0.9,0.20 Z" fill="#000" opacity="0.39" transform="translate(1.0,0.5)" filter="url(#ab)"/><path d="M-0.9,-6.00 L0.9,-6.00 L0.9,0.20 L3.7,-0.60 L0,6.00 L-3.7,-0.60 L-0.9,0.20 Z" fill="#f6ecf6"/></g>
<g transform="translate(261.50,149.50) rotate(0.0)"><path d="M-0.9,-6.00 L0.9,-6.00 L0.9,0.20 L3.7,-0.60 L0,6.00 L-3.7,-0.60 L-0.9,0.20 Z" fill="#000" opacity="0.41" transform="translate(1.0,0.5)" filter="url(#ab)"/><path d="M-0.9,-6.00 L0.9,-6.00 L0.9,0.20 L3.7,-0.60 L0,6.00 L-3.7,-0.60 L-0.9,0.20 Z" fill="#f6ecf6"/></g>
<g transform="translate(289.00,152.00) rotate(0.0)"><path d="M-0.9,-5.00 L0.9,-5.00 L0.9,-0.80 L3.7,-1.60 L0,5.00 L-3.7,-1.60 L-0.9,-0.80 Z" fill="#000" opacity="0.43" transform="translate(1.0,0.5)" filter="url(#ab)"/><path d="M-0.9,-5.00 L0.9,-5.00 L0.9,-0.80 L3.7,-1.60 L0,5.00 L-3.7,-1.60 L-0.9,-0.80 Z" fill="#f6ecf6"/></g>
<g transform="translate(300.25,163.00) rotate(0.0)"><path d="M-0.9,-4.50 L0.9,-4.50 L0.9,-1.30 L3.7,-2.10 L0,4.50 L-3.7,-2.10 L-0.9,-1.30 Z" fill="#000" opacity="0.60" transform="translate(1.0,0.5)" filter="url(#ab)"/><path d="M-0.9,-4.50 L0.9,-4.50 L0.9,-1.30 L3.7,-2.10 L0,4.50 L-3.7,-2.10 L-0.9,-1.30 Z" fill="#fdfdfd"/></g>
<g transform="translate(323.50,154.00) rotate(-35.0)"><path d="M-0.9,-6.00 L0.9,-6.00 L0.9,0.20 L3.7,-0.60 L0,6.00 L-3.7,-0.60 L-0.9,0.20 Z" fill="#000" opacity="0.60" transform="translate(1.0,0.5)" filter="url(#ab)"/><path d="M-0.9,-6.00 L0.9,-6.00 L0.9,0.20 L3.7,-0.60 L0,6.00 L-3.7,-0.60 L-0.9,0.20 Z" fill="#fdfdfd"/></g>
<g transform="translate(341.50,140.20) rotate(-35.0)"><path d="M-0.9,-6.00 L0.9,-6.00 L0.9,0.20 L3.7,-0.60 L0,6.00 L-3.7,-0.60 L-0.9,0.20 Z" fill="#000" opacity="0.60" transform="translate(1.0,0.5)" filter="url(#ab)"/><path d="M-0.9,-6.00 L0.9,-6.00 L0.9,0.20 L3.7,-0.60 L0,6.00 L-3.7,-0.60 L-0.9,0.20 Z" fill="#fdfdfd"/></g>
<g transform="translate(371.50,161.00) rotate(120.0)"><path d="M-0.9,-5.50 L0.9,-5.50 L0.9,-0.30 L3.7,-1.10 L0,5.50 L-3.7,-1.10 L-0.9,-0.30 Z" fill="#000" opacity="0.60" transform="translate(1.0,0.5)" filter="url(#ab)"/><path d="M-0.9,-5.50 L0.9,-5.50 L0.9,-0.30 L3.7,-1.10 L0,5.50 L-3.7,-1.10 L-0.9,-0.30 Z" fill="#fdfdfd"/></g>
<g transform="translate(349.00,187.00) rotate(120.0)"><path d="M-0.9,-5.50 L0.9,-5.50 L0.9,-0.30 L3.7,-1.10 L0,5.50 L-3.7,-1.10 L-0.9,-0.30 Z" fill="#000" opacity="0.60" transform="translate(1.0,0.5)" filter="url(#ab)"/><path d="M-0.9,-5.50 L0.9,-5.50 L0.9,-0.30 L3.7,-1.10 L0,5.50 L-3.7,-1.10 L-0.9,-0.30 Z" fill="#fdfdfd"/></g>
<g transform="translate(72.80,207.20) rotate(180.0)"><path d="M-0.9,-6.00 L0.9,-6.00 L0.9,0.20 L3.7,-0.60 L0,6.00 L-3.7,-0.60 L-0.9,0.20 Z" fill="#000" opacity="0.35" transform="translate(1.0,0.5)" filter="url(#ab)"/><path d="M-0.9,-6.00 L0.9,-6.00 L0.9,0.20 L3.7,-0.60 L0,6.00 L-3.7,-0.60 L-0.9,0.20 Z" fill="#f6ecf6"/></g>
<g transform="translate(98.25,201.55) rotate(180.0)"><path d="M-0.9,-6.00 L0.9,-6.00 L0.9,0.20 L3.7,-0.60 L0,6.00 L-3.7,-0.60 L-0.9,0.20 Z" fill="#000" opacity="0.35" transform="translate(1.0,0.5)" filter="url(#ab)"/><path d="M-0.9,-6.00 L0.9,-6.00 L0.9,0.20 L3.7,-0.60 L0,6.00 L-3.7,-0.60 L-0.9,0.20 Z" fill="#f6ecf6"/></g>
<g transform="translate(121.90,201.55) rotate(180.0)"><path d="M-0.9,-4.50 L0.9,-4.50 L0.9,-1.30 L3.7,-2.10 L0,4.50 L-3.7,-2.10 L-0.9,-1.30 Z" fill="#000" opacity="0.35" transform="translate(1.0,0.5)" filter="url(#ab)"/><path d="M-0.9,-4.50 L0.9,-4.50 L0.9,-1.30 L3.7,-2.10 L0,4.50 L-3.7,-2.10 L-0.9,-1.30 Z" fill="#f6ecf6"/></g>
<g transform="translate(129.75,191.30) rotate(180.0)"><path d="M-0.9,-4.50 L0.9,-4.50 L0.9,-1.30 L3.7,-2.10 L0,4.50 L-3.7,-2.10 L-0.9,-1.30 Z" fill="#000" opacity="0.35" transform="translate(1.0,0.5)" filter="url(#ab)"/><path d="M-0.9,-4.50 L0.9,-4.50 L0.9,-1.30 L3.7,-2.10 L0,4.50 L-3.7,-2.10 L-0.9,-1.30 Z" fill="#f6ecf6"/></g>
<g transform="translate(156.75,193.70) rotate(180.0)"><path d="M-0.9,-6.00 L0.9,-6.00 L0.9,0.20 L3.7,-0.60 L0,6.00 L-3.7,-0.60 L-0.9,0.20 Z" fill="#000" opacity="0.35" transform="translate(1.0,0.5)" filter="url(#ab)"/><path d="M-0.9,-6.00 L0.9,-6.00 L0.9,0.20 L3.7,-0.60 L0,6.00 L-3.7,-0.60 L-0.9,0.20 Z" fill="#f6ecf6"/></g>
<g transform="translate(179.25,195.90) rotate(180.0)"><path d="M-0.9,-6.00 L0.9,-6.00 L0.9,0.20 L3.7,-0.60 L0,6.00 L-3.7,-0.60 L-0.9,0.20 Z" fill="#000" opacity="0.35" transform="translate(1.0,0.5)" filter="url(#ab)"/><path d="M-0.9,-6.00 L0.9,-6.00 L0.9,0.20 L3.7,-0.60 L0,6.00 L-3.7,-0.60 L-0.9,0.20 Z" fill="#f6ecf6"/></g>
<g transform="translate(202.25,204.30) rotate(180.0)"><path d="M-0.9,-5.00 L0.9,-5.00 L0.9,-0.80 L3.7,-1.60 L0,5.00 L-3.7,-1.60 L-0.9,-0.80 Z" fill="#000" opacity="0.35" transform="translate(1.0,0.5)" filter="url(#ab)"/><path d="M-0.9,-5.00 L0.9,-5.00 L0.9,-0.80 L3.7,-1.60 L0,5.00 L-3.7,-1.60 L-0.9,-0.80 Z" fill="#f6ecf6"/></g>
<g transform="translate(217.75,197.00) rotate(180.0)"><path d="M-0.9,-4.50 L0.9,-4.50 L0.9,-1.30 L3.7,-2.10 L0,4.50 L-3.7,-2.10 L-0.9,-1.30 Z" fill="#000" opacity="0.36" transform="translate(1.0,0.5)" filter="url(#ab)"/><path d="M-0.9,-4.50 L0.9,-4.50 L0.9,-1.30 L3.7,-2.10 L0,4.50 L-3.7,-2.10 L-0.9,-1.30 Z" fill="#f6ecf6"/></g>
<g transform="translate(240.25,202.00) rotate(180.0)"><path d="M-0.9,-6.00 L0.9,-6.00 L0.9,0.20 L3.7,-0.60 L0,6.00 L-3.7,-0.60 L-0.9,0.20 Z" fill="#000" opacity="0.39" transform="translate(1.0,0.5)" filter="url(#ab)"/><path d="M-0.9,-6.00 L0.9,-6.00 L0.9,0.20 L3.7,-0.60 L0,6.00 L-3.7,-0.60 L-0.9,0.20 Z" fill="#f6ecf6"/></g>
<g transform="translate(266.50,203.25) rotate(180.0)"><path d="M-0.9,-6.00 L0.9,-6.00 L0.9,0.20 L3.7,-0.60 L0,6.00 L-3.7,-0.60 L-0.9,0.20 Z" fill="#000" opacity="0.41" transform="translate(1.0,0.5)" filter="url(#ab)"/><path d="M-0.9,-6.00 L0.9,-6.00 L0.9,0.20 L3.7,-0.60 L0,6.00 L-3.7,-0.60 L-0.9,0.20 Z" fill="#f6ecf6"/></g>
<g transform="translate(289.00,208.25) rotate(180.0)"><path d="M-0.9,-5.00 L0.9,-5.00 L0.9,-0.80 L3.7,-1.60 L0,5.00 L-3.7,-1.60 L-0.9,-0.80 Z" fill="#000" opacity="0.43" transform="translate(1.0,0.5)" filter="url(#ab)"/><path d="M-0.9,-5.00 L0.9,-5.00 L0.9,-0.80 L3.7,-1.60 L0,5.00 L-3.7,-1.60 L-0.9,-0.80 Z" fill="#f6ecf6"/></g>
<g transform="translate(292.75,198.25) rotate(180.0)"><path d="M-0.9,-4.50 L0.9,-4.50 L0.9,-1.30 L3.7,-2.10 L0,4.50 L-3.7,-2.10 L-0.9,-1.30 Z" fill="#000" opacity="0.60" transform="translate(1.0,0.5)" filter="url(#ab)"/><path d="M-0.9,-4.50 L0.9,-4.50 L0.9,-1.30 L3.7,-2.10 L0,4.50 L-3.7,-2.10 L-0.9,-1.30 Z" fill="#fdfdfd"/></g>
<g transform="translate(327.75,210.75) rotate(180.0)"><path d="M-0.9,-5.50 L0.9,-5.50 L0.9,-0.30 L3.7,-1.10 L0,5.50 L-3.7,-1.10 L-0.9,-0.30 Z" fill="#000" opacity="0.60" transform="translate(1.0,0.5)" filter="url(#ab)"/><path d="M-0.9,-5.50 L0.9,-5.50 L0.9,-0.30 L3.7,-1.10 L0,5.50 L-3.7,-1.10 L-0.9,-0.30 Z" fill="#fdfdfd"/></g>
<path d="M43.80,139.50 L130.00,141.90 C133.12,141.79 142.50,141.67 148.75,141.25 C155.00,140.83 161.88,139.61 167.50,139.40 C173.12,139.19 178.33,139.28 182.50,140.00 C186.67,140.72 188.75,142.29 192.50,143.75 C196.25,145.21 198.75,147.29 205.00,148.75 C211.25,150.21 221.83,150.96 230.00,152.50 C238.17,154.04 247.33,156.17 254.00,158.00 C260.67,159.83 265.33,162.38 270.00,163.50 C274.67,164.62 277.83,164.12 282.00,164.70 C286.17,165.28 290.67,166.12 295.00,167.00 C299.33,167.88 304.33,169.67 308.00,170.00 C311.67,170.33 314.00,170.08 317.00,169.00 C320.00,167.92 323.00,165.47 326.00,163.50 C329.00,161.53 332.42,159.03 335.00,157.20 C337.58,155.37 338.58,154.58 341.50,152.50 C344.42,150.42 349.33,146.73 352.50,144.70 C355.67,142.67 358.58,141.28 360.50,140.30 C362.42,139.32 362.83,138.88 364.00,138.80 C365.17,138.72 366.62,139.07 367.50,139.80 C368.38,140.53 369.10,141.67 369.30,143.20 C369.50,144.73 369.08,147.00 368.70,149.00 C368.32,151.00 368.12,152.95 367.00,155.20 C365.88,157.45 364.10,160.45 362.00,162.50 C359.90,164.55 357.02,165.58 354.40,167.50 C351.78,169.42 348.62,171.47 346.30,174.00 C343.98,176.53 341.88,180.03 340.50,182.70 C339.12,185.37 338.62,187.87 338.00,190.00 C337.38,192.13 337.63,193.75 336.80,195.50 C335.97,197.25 334.47,199.50 333.00,200.50 C331.53,201.50 329.67,201.58 328.00,201.50 C326.33,201.42 325.17,200.75 323.00,200.00 C320.83,199.25 318.00,198.00 315.00,197.00 C312.00,196.00 309.17,194.75 305.00,194.00 C300.83,193.25 295.83,192.67 290.00,192.50 C284.17,192.33 280.00,193.10 270.00,193.00 C260.00,192.90 240.83,192.61 230.00,191.90 C219.17,191.19 212.29,190.32 205.00,188.75 C197.71,187.18 191.46,184.06 186.25,182.50 C181.04,180.94 178.96,179.82 173.75,179.40 C168.54,178.98 161.29,179.80 155.00,180.00 C148.71,180.20 139.17,180.50 136.00,180.60 L41.20,196.50 L43.80,139.50 Z" fill="#f7eada" stroke="#111" stroke-width="2.00" stroke-linejoin="round" filter="url(#sh)"/>
<g transform="translate(58.00,154.00) rotate(0.0)"><path d="M-6.6,0 L0.8,-4.2 L-0.2,-1.2 L6.3,-1.2 L6.3,1.2 L-0.2,1.2 L0.8,4.2 Z" fill="#b31b24" stroke="#94131b" stroke-width="0.35" stroke-linejoin="round"/></g>
<g transform="translate(89.00,152.50) rotate(0.0)"><path d="M-6.6,0 L0.8,-4.2 L-0.2,-1.2 L6.3,-1.2 L6.3,1.2 L-0.2,1.2 L0.8,4.2 Z" fill="#b31b24" stroke="#94131b" stroke-width="0.35" stroke-linejoin="round"/></g>
<g transform="translate(130.00,150.50) rotate(0.0)"><path d="M-6.6,0 L0.8,-4.2 L-0.2,-1.2 L6.3,-1.2 L6.3,1.2 L-0.2,1.2 L0.8,4.2 Z" fill="#b31b24" stroke="#94131b" stroke-width="0.35" stroke-linejoin="round"/></g>
<g transform="translate(171.00,148.70) rotate(0.0)"><path d="M-6.6,0 L0.8,-4.2 L-0.2,-1.2 L6.3,-1.2 L6.3,1.2 L-0.2,1.2 L0.8,4.2 Z" fill="#b31b24" stroke="#94131b" stroke-width="0.35" stroke-linejoin="round"/></g>
<g transform="translate(70.00,167.50) rotate(0.0)"><path d="M-6.6,0 L0.8,-4.2 L-0.2,-1.2 L6.3,-1.2 L6.3,1.2 L-0.2,1.2 L0.8,4.2 Z" fill="#b31b24" stroke="#94131b" stroke-width="0.35" stroke-linejoin="round"/></g>
<g transform="translate(110.00,165.80) rotate(0.0)"><path d="M-6.6,0 L0.8,-4.2 L-0.2,-1.2 L6.3,-1.2 L6.3,1.2 L-0.2,1.2 L0.8,4.2 Z" fill="#b31b24" stroke="#94131b" stroke-width="0.35" stroke-linejoin="round"/></g>
<g transform="translate(150.00,161.00) rotate(0.0)"><path d="M-6.6,0 L0.8,-4.2 L-0.2,-1.2 L6.3,-1.2 L6.3,1.2 L-0.2,1.2 L0.8,4.2 Z" fill="#b31b24" stroke="#94131b" stroke-width="0.35" stroke-linejoin="round"/></g>
<g transform="translate(192.00,166.00) rotate(0.0)"><path d="M-6.6,0 L0.8,-4.2 L-0.2,-1.2 L6.3,-1.2 L6.3,1.2 L-0.2,1.2 L0.8,4.2 Z" fill="#b31b24" stroke="#94131b" stroke-width="0.35" stroke-linejoin="round"/></g>
<g transform="translate(211.00,160.50) rotate(0.0)"><path d="M-6.6,0 L0.8,-4.2 L-0.2,-1.2 L6.3,-1.2 L6.3,1.2 L-0.2,1.2 L0.8,4.2 Z" fill="#b31b24" stroke="#94131b" stroke-width="0.35" stroke-linejoin="round"/></g>
<g transform="translate(57.80,184.00) rotate(0.0)"><path d="M-6.6,0 L0.8,-4.2 L-0.2,-1.2 L6.3,-1.2 L6.3,1.2 L-0.2,1.2 L0.8,4.2 Z" fill="#b31b24" stroke="#94131b" stroke-width="0.35" stroke-linejoin="round"/></g>
<g transform="translate(90.00,179.00) rotate(0.0)"><path d="M-6.6,0 L0.8,-4.2 L-0.2,-1.2 L6.3,-1.2 L6.3,1.2 L-0.2,1.2 L0.8,4.2 Z" fill="#b31b24" stroke="#94131b" stroke-width="0.35" stroke-linejoin="round"/></g>
<g transform="translate(131.00,174.50) rotate(0.0)"><path d="M-6.6,0 L0.8,-4.2 L-0.2,-1.2 L6.3,-1.2 L6.3,1.2 L-0.2,1.2 L0.8,4.2 Z" fill="#b31b24" stroke="#94131b" stroke-width="0.35" stroke-linejoin="round"/></g>
<g transform="translate(170.00,170.50) rotate(0.0)"><path d="M-6.6,0 L0.8,-4.2 L-0.2,-1.2 L6.3,-1.2 L6.3,1.2 L-0.2,1.2 L0.8,4.2 Z" fill="#b31b24" stroke="#94131b" stroke-width="0.35" stroke-linejoin="round"/></g>
<g transform="translate(227.50,177.00) rotate(0.0)"><path d="M-6.6,0 L0.8,-4.2 L-0.2,-1.2 L6.3,-1.2 L6.3,1.2 L-0.2,1.2 L0.8,4.2 Z" fill="#b31b24" stroke="#94131b" stroke-width="0.35" stroke-linejoin="round"/></g>
<g transform="translate(246.50,169.50) rotate(0.0)"><path d="M-6.6,0 L0.8,-4.2 L-0.2,-1.2 L6.3,-1.2 L6.3,1.2 L-0.2,1.2 L0.8,4.2 Z" fill="#b31b24" stroke="#94131b" stroke-width="0.35" stroke-linejoin="round"/></g>
<g transform="translate(263.00,183.50) rotate(0.0)"><path d="M-6.6,0 L0.8,-4.2 L-0.2,-1.2 L6.3,-1.2 L6.3,1.2 L-0.2,1.2 L0.8,4.2 Z" fill="#b31b24" stroke="#94131b" stroke-width="0.35" stroke-linejoin="round"/></g>
<g transform="translate(284.50,174.80) rotate(0.0)"><path d="M-6.6,0 L0.8,-4.2 L-0.2,-1.2 L6.3,-1.2 L6.3,1.2 L-0.2,1.2 L0.8,4.2 Z" fill="#b31b24" stroke="#94131b" stroke-width="0.35" stroke-linejoin="round"/></g>
<g transform="translate(303.00,185.00) rotate(0.0)"><path d="M-6.6,0 L0.8,-4.2 L-0.2,-1.2 L6.3,-1.2 L6.3,1.2 L-0.2,1.2 L0.8,4.2 Z" fill="#b31b24" stroke="#94131b" stroke-width="0.35" stroke-linejoin="round"/></g>
<g transform="translate(324.00,174.50) rotate(-35.0)"><path d="M-6.6,0 L0.8,-4.2 L-0.2,-1.2 L6.3,-1.2 L6.3,1.2 L-0.2,1.2 L0.8,4.2 Z" fill="#b31b24" stroke="#94131b" stroke-width="0.35" stroke-linejoin="round"/></g>
<g transform="translate(343.00,168.00) rotate(-35.0)"><path d="M-6.6,0 L0.8,-4.2 L-0.2,-1.2 L6.3,-1.2 L6.3,1.2 L-0.2,1.2 L0.8,4.2 Z" fill="#b31b24" stroke="#94131b" stroke-width="0.35" stroke-linejoin="round"/></g>
<g transform="translate(353.50,153.50) rotate(-40.0)"><path d="M-6.6,0 L0.8,-4.2 L-0.2,-1.2 L6.3,-1.2 L6.3,1.2 L-0.2,1.2 L0.8,4.2 Z" fill="#b31b24" stroke="#94131b" stroke-width="0.35" stroke-linejoin="round"/></g>
<g transform="translate(326.00,190.00) rotate(-12.0)"><path d="M-6.6,0 L0.8,-4.2 L-0.2,-1.2 L6.3,-1.2 L6.3,1.2 L-0.2,1.2 L0.8,4.2 Z" fill="#b31b24" stroke="#94131b" stroke-width="0.35" stroke-linejoin="round"/></g>
</g>
<g transform="translate(376.00,133.50)">
<g filter="url(#sh)">
<path d="M57.50,114.50 C67.08,114.75 97.50,115.29 115.00,116.00 C132.50,116.71 150.00,117.97 162.50,118.75 C175.00,119.53 181.35,119.56 190.00,120.70 C198.65,121.84 210.33,124.78 214.40,125.60 L214.40,207.00 C208.67,206.72 193.07,205.43 180.00,205.30 C166.93,205.18 143.33,206.09 136.00,206.25 L57.25,221.30 L57.50,114.50 Z" fill="#8b4f80" stroke="#111" stroke-width="2.00" stroke-linejoin="round"/>
<path d="M119.00,140.50 C121.33,139.17 128.17,135.25 133.00,132.50 C137.83,129.75 144.17,125.93 148.00,124.00 C151.83,122.07 153.00,121.68 156.00,120.90 C159.00,120.12 164.33,119.57 166.00,119.30 C170.00,119.53 181.93,119.65 190.00,120.70 C198.07,121.75 206.28,123.84 214.40,125.60 C222.53,127.36 230.65,129.22 238.75,131.25 C246.85,133.28 258.96,136.67 263.00,137.75 L263.00,211.00 C259.17,211.33 246.96,212.85 240.00,213.00 C233.04,213.15 229.17,212.72 221.25,211.90 C213.33,211.08 201.46,209.25 192.50,208.10 C183.54,206.95 175.92,205.48 167.50,205.00 C159.08,204.52 146.25,205.17 142.00,205.20 C141.12,204.45 138.50,202.48 136.75,200.70 C135.00,198.92 133.54,197.45 131.50,194.50 C129.46,191.55 125.67,184.92 124.50,183.00 L119.00,140.50 Z" fill="#8b4f80" stroke="#111" stroke-width="2.00" stroke-linejoin="round"/>
<path d="M206.25,149.00 C209.54,146.75 221.94,138.18 226.00,135.50 C230.06,132.82 228.47,133.61 230.60,132.90 C232.72,132.19 237.39,131.53 238.75,131.25 C242.79,132.33 254.88,135.58 263.00,137.75 C271.12,139.92 280.17,142.38 287.50,144.25 C294.83,146.12 303.75,148.21 307.00,149.00 L307.00,213.00 C303.33,212.92 296.17,212.50 285.00,212.50 C273.83,212.50 250.50,213.17 240.00,213.00 C229.50,212.83 225.00,211.75 222.00,211.50 C220.33,209.42 215.00,202.83 212.00,199.00 C209.00,195.17 205.33,190.25 204.00,188.50 L206.25,149.00 Z" fill="#8b4f80" stroke="#111" stroke-width="2.00" stroke-linejoin="round"/>
<path d="M281.00,164.50 L306.90,150.00 C309.33,148.53 316.57,144.41 321.50,141.20 C326.43,137.99 331.92,133.32 336.50,130.75 C341.08,128.18 344.83,126.79 349.00,125.75 C353.17,124.71 357.75,124.29 361.50,124.50 C365.25,124.71 368.58,125.54 371.50,127.00 C374.42,128.46 377.02,130.75 379.00,133.25 C380.98,135.75 382.57,138.88 383.40,142.00 C384.23,145.12 384.15,148.67 384.00,152.00 C383.85,155.33 383.42,158.83 382.50,162.00 C381.58,165.17 380.50,168.33 378.50,171.00 C376.50,173.67 373.33,175.17 370.50,178.00 C367.67,180.83 364.58,184.00 361.50,188.00 C358.42,192.00 354.58,197.92 352.00,202.00 C349.42,206.08 348.33,209.83 346.00,212.50 C343.67,215.17 340.62,216.88 338.00,218.00 C335.38,219.12 333.62,219.27 330.25,219.20 C326.88,219.13 321.92,218.15 317.75,217.60 C313.58,217.05 308.62,216.30 305.25,215.90 C301.88,215.50 298.79,215.32 297.50,215.20 C296.17,213.42 291.75,208.05 289.50,204.50 C287.25,200.95 284.92,195.67 284.00,193.90 L281.00,164.50 Z" fill="#8b4f80" stroke="#111" stroke-width="2.00" stroke-linejoin="round"/>
</g>
<g transform="translate(78.30,128.40) rotate(0.0)"><path d="M-0.9,-6.00 L0.9,-6.00 L0.9,0.20 L3.7,-0.60 L0,6.00 L-3.7,-0.60 L-0.9,0.20 Z" fill="#000" opacity="0.35" transform="translate(1.0,0.5)" filter="url(#ab)"/><path d="M-0.9,-6.00 L0.9,-6.00 L0.9,0.20 L3.7,-0.60 L0,6.00 L-3.7,-0.60 L-0.9,0.20 Z" fill="#f6ecf6"/></g>
<g transform="translate(103.75,129.50) rotate(0.0)"><path d="M-0.9,-6.00 L0.9,-6.00 L0.9,0.20 L3.7,-0.60 L0,6.00 L-3.7,-0.60 L-0.9,0.20 Z" fill="#000" opacity="0.35" transform="translate(1.0,0.5)" filter="url(#ab)"/><path d="M-0.9,-6.00 L0.9,-6.00 L0.9,0.20 L3.7,-0.60 L0,6.00 L-3.7,-0.60 L-0.9,0.20 Z" fill="#f6ecf6"/></g>
<g transform="translate(131.20,125.00) rotate(0.0)"><path d="M-0.9,-4.50 L0.9,-4.50 L0.9,-1.30 L3.7,-2.10 L0,4.50 L-3.7,-2.10 L-0.9,-1.30 Z" fill="#000" opacity="0.35" transform="translate(1.0,0.5)" filter="url(#ab)"/><path d="M-0.9,-4.50 L0.9,-4.50 L0.9,-1.30 L3.7,-2.10 L0,4.50 L-3.7,-2.10 L-0.9,-1.30 Z" fill="#f6ecf6"/></g>
<g transform="translate(139.75,135.00) rotate(0.0)"><path d="M-0.9,-4.50 L0.9,-4.50 L0.9,-1.30 L3.7,-2.10 L0,4.50 L-3.7,-2.10 L-0.9,-1.30 Z" fill="#000" opacity="0.35" transform="translate(1.0,0.5)" filter="url(#ab)"/><path d="M-0.9,-4.50 L0.9,-4.50 L0.9,-1.30 L3.7,-2.10 L0,4.50 L-3.7,-2.10 L-0.9,-1.30 Z" fill="#f6ecf6"/></g>
<g transform="translate(164.00,128.40) rotate(0.0)"><path d="M-0.9,-6.00 L0.9,-6.00 L0.9,0.20 L3.7,-0.60 L0,6.00 L-3.7,-0.60 L-0.9,0.20 Z" fill="#000" opacity="0.35" transform="translate(1.0,0.5)" filter="url(#ab)"/><path d="M-0.9,-6.00 L0.9,-6.00 L0.9,0.20 L3.7,-0.60 L0,6.00 L-3.7,-0.60 L-0.9,0.20 Z" fill="#f6ecf6"/></g>
<g transform="translate(187.70,130.60) rotate(0.0)"><path d="M-0.9,-6.00 L0.9,-6.00 L0.9,0.20 L3.7,-0.60 L0,6.00 L-3.7,-0.60 L-0.9,0.20 Z" fill="#000" opacity="0.35" transform="translate(1.0,0.5)" filter="url(#ab)"/><path d="M-0.9,-6.00 L0.9,-6.00 L0.9,0.20 L3.7,-0.60 L0,6.00 L-3.7,-0.60 L-0.9,0.20 Z" fill="#f6ecf6"/></g>
<g transform="translate(214.00,134.50) rotate(0.0)"><path d="M-0.9,-5.00 L0.9,-5.00 L0.9,-0.80 L3.7,-1.60 L0,5.00 L-3.7,-1.60 L-0.9,-0.80 Z" fill="#000" opacity="0.35" transform="translate(1.0,0.5)" filter="url(#ab)"/><path d="M-0.9,-5.00 L0.9,-5.00 L0.9,-0.80 L3.7,-1.60 L0,5.00 L-3.7,-1.60 L-0.9,-0.80 Z" fill="#f6ecf6"/></g>
<g transform="translate(224.00,145.70) rotate(0.0)"><path d="M-0.9,-4.50 L0.9,-4.50 L0.9,-1.30 L3.7,-2.10 L0,4.50 L-3.7,-2.10 L-0.9,-1.30 Z" fill="#000" opacity="0.35" transform="translate(1.0,0.5)" filter="url(#ab)"/><path d="M-0.9,-4.50 L0.9,-4.50 L0.9,-1.30 L3.7,-2.10 L0,4.50 L-3.7,-2.10 L-0.9,-1.30 Z" fill="#f6ecf6"/></g>
<g transform="translate(245.25,147.00) rotate(0.0)"><path d="M-0.9,-6.00 L0.9,-6.00 L0.9,0.20 L3.7,-0.60 L0,6.00 L-3.7,-0.60 L-0.9,0.20 Z" fill="#000" opacity="0.35" transform="translate(1.0,0.5)" filter="url(#ab)"/><path d="M-0.9,-6.00 L0.9,-6.00 L0.9,0.20 L3.7,-0.60 L0,6.00 L-3.7,-0.60 L-0.9,0.20 Z" fill="#f6ecf6"/></g>
<g transform="translate(261.50,149.50) rotate(0.0)"><path d="M-0.9,-6.00 L0.9,-6.00 L0.9,0.20 L3.7,-0.60 L0,6.00 L-3.7,-0.60 L-0.9,0.20 Z" fill="#000" opacity="0.35" transform="translate(1.0,0.5)" filter="url(#ab)"/><path d="M-0.9,-6.00 L0.9,-6.00 L0.9,0.20 L3.7,-0.60 L0,6.00 L-3.7,-0.60 L-0.9,0.20 Z" fill="#f6ecf6"/></g>
<g transform="translate(289.00,152.00) rotate(0.0)"><path d="M-0.9,-5.00 L0.9,-5.00 L0.9,-0.80 L3.7,-1.60 L0,5.00 L-3.7,-1.60 L-0.9,-0.80 Z" fill="#000" opacity="0.35" transform="translate(1.0,0.5)" filter="url(#ab)"/><path d="M-0.9,-5.00 L0.9,-5.00 L0.9,-0.80 L3.7,-1.60 L0,5.00 L-3.7,-1.60 L-0.9,-0.80 Z" fill="#f6ecf6"/></g>
<g transform="translate(300.25,163.00) rotate(0.0)"><path d="M-0.9,-4.50 L0.9,-4.50 L0.9,-1.30 L3.7,-2.10 L0,4.50 L-3.7,-2.10 L-0.9,-1.30 Z" fill="#000" opacity="0.35" transform="translate(1.0,0.5)" filter="url(#ab)"/><path d="M-0.9,-4.50 L0.9,-4.50 L0.9,-1.30 L3.7,-2.10 L0,4.50 L-3.7,-2.10 L-0.9,-1.30 Z" fill="#f6ecf6"/></g>
<g transform="translate(323.50,154.00) rotate(-35.0)"><path d="M-0.9,-6.00 L0.9,-6.00 L0.9,0.20 L3.7,-0.60 L0,6.00 L-3.7,-0.60 L-0.9,0.20 Z" fill="#000" opacity="0.35" transform="translate(1.0,0.5)" filter="url(#ab)"/><path d="M-0.9,-6.00 L0.9,-6.00 L0.9,0.20 L3.7,-0.60 L0,6.00 L-3.7,-0.60 L-0.9,0.20 Z" fill="#f6ecf6"/></g>
<g transform="translate(341.50,140.20) rotate(-35.0)"><path d="M-0.9,-6.00 L0.9,-6.00 L0.9,0.20 L3.7,-0.60 L0,6.00 L-3.7,-0.60 L-0.9,0.20 Z" fill="#000" opacity="0.35" transform="translate(1.0,0.5)" filter="url(#ab)"/><path d="M-0.9,-6.00 L0.9,-6.00 L0.9,0.20 L3.7,-0.60 L0,6.00 L-3.7,-0.60 L-0.9,0.20 Z" fill="#f6ecf6"/></g>
<g transform="translate(371.50,161.00) rotate(120.0)"><path d="M-0.9,-5.50 L0.9,-5.50 L0.9,-0.30 L3.7,-1.10 L0,5.50 L-3.7,-1.10 L-0.9,-0.30 Z" fill="#000" opacity="0.35" transform="translate(1.0,0.5)" filter="url(#ab)"/><path d="M-0.9,-5.50 L0.9,-5.50 L0.9,-0.30 L3.7,-1.10 L0,5.50 L-3.7,-1.10 L-0.9,-0.30 Z" fill="#f6ecf6"/></g>
<g transform="translate(349.00,187.00) rotate(120.0)"><path d="M-0.9,-5.50 L0.9,-5.50 L0.9,-0.30 L3.7,-1.10 L0,5.50 L-3.7,-1.10 L-0.9,-0.30 Z" fill="#000" opacity="0.35" transform="translate(1.0,0.5)" filter="url(#ab)"/><path d="M-0.9,-5.50 L0.9,-5.50 L0.9,-0.30 L3.7,-1.10 L0,5.50 L-3.7,-1.10 L-0.9,-0.30 Z" fill="#f6ecf6"/></g>
<g transform="translate(78.30,204.90) rotate(180.0)"><path d="M-0.9,-6.00 L0.9,-6.00 L0.9,0.20 L3.7,-0.60 L0,6.00 L-3.7,-0.60 L-0.9,0.20 Z" fill="#000" opacity="0.35" transform="translate(1.0,0.5)" filter="url(#ab)"/><path d="M-0.9,-6.00 L0.9,-6.00 L0.9,0.20 L3.7,-0.60 L0,6.00 L-3.7,-0.60 L-0.9,0.20 Z" fill="#f6ecf6"/></g>
<g transform="translate(103.75,199.25) rotate(180.0)"><path d="M-0.9,-6.00 L0.9,-6.00 L0.9,0.20 L3.7,-0.60 L0,6.00 L-3.7,-0.60 L-0.9,0.20 Z" fill="#000" opacity="0.35" transform="translate(1.0,0.5)" filter="url(#ab)"/><path d="M-0.9,-6.00 L0.9,-6.00 L0.9,0.20 L3.7,-0.60 L0,6.00 L-3.7,-0.60 L-0.9,0.20 Z" fill="#f6ecf6"/></g>
<g transform="translate(127.40,199.25) rotate(180.0)"><path d="M-0.9,-4.50 L0.9,-4.50 L0.9,-1.30 L3.7,-2.10 L0,4.50 L-3.7,-2.10 L-0.9,-1.30 Z" fill="#000" opacity="0.35" transform="translate(1.0,0.5)" filter="url(#ab)"/><path d="M-0.9,-4.50 L0.9,-4.50 L0.9,-1.30 L3.7,-2.10 L0,4.50 L-3.7,-2.10 L-0.9,-1.30 Z" fill="#f6ecf6"/></g>
<g transform="translate(135.25,189.00) rotate(180.0)"><path d="M-0.9,-4.50 L0.9,-4.50 L0.9,-1.30 L3.7,-2.10 L0,4.50 L-3.7,-2.10 L-0.9,-1.30 Z" fill="#000" opacity="0.35" transform="translate(1.0,0.5)" filter="url(#ab)"/><path d="M-0.9,-4.50 L0.9,-4.50 L0.9,-1.30 L3.7,-2.10 L0,4.50 L-3.7,-2.10 L-0.9,-1.30 Z" fill="#f6ecf6"/></g>
<g transform="translate(162.25,191.40) rotate(180.0)"><path d="M-0.9,-6.00 L0.9,-6.00 L0.9,0.20 L3.7,-0.60 L0,6.00 L-3.7,-0.60 L-0.9,0.20 Z" fill="#000" opacity="0.35" transform="translate(1.0,0.5)" filter="url(#ab)"/><path d="M-0.9,-6.00 L0.9,-6.00 L0.9,0.20 L3.7,-0.60 L0,6.00 L-3.7,-0.60 L-0.9,0.20 Z" fill="#f6ecf6"/></g>
<g transform="translate(184.75,193.60) rotate(180.0)"><path d="M-0.9,-6.00 L0.9,-6.00 L0.9,0.20 L3.7,-0.60 L0,6.00 L-3.7,-0.60 L-0.9,0.20 Z" fill="#000" opacity="0.35" transform="translate(1.0,0.5)" filter="url(#ab)"/><path d="M-0.9,-6.00 L0.9,-6.00 L0.9,0.20 L3.7,-0.60 L0,6.00 L-3.7,-0.60 L-0.9,0.20 Z" fill="#f6ecf6"/></g>
<g transform="translate(207.75,202.00) rotate(180.0)"><path d="M-0.9,-5.00 L0.9,-5.00 L0.9,-0.80 L3.7,-1.60 L0,5.00 L-3.7,-1.60 L-0.9,-0.80 Z" fill="#000" opacity="0.35" transform="translate(1.0,0.5)" filter="url(#ab)"/><path d="M-0.9,-5.00 L0.9,-5.00 L0.9,-0.80 L3.7,-1.60 L0,5.00 L-3.7,-1.60 L-0.9,-0.80 Z" fill="#f6ecf6"/></g>
<g transform="translate(217.75,197.00) rotate(180.0)"><path d="M-0.9,-4.50 L0.9,-4.50 L0.9,-1.30 L3.7,-2.10 L0,4.50 L-3.7,-2.10 L-0.9,-1.30 Z" fill="#000" opacity="0.35" transform="translate(1.0,0.5)" filter="url(#ab)"/><path d="M-0.9,-4.50 L0.9,-4.50 L0.9,-1.30 L3.7,-2.10 L0,4.50 L-3.7,-2.10 L-0.9,-1.30 Z" fill="#f6ecf6"/></g>
<g transform="translate(240.25,202.00) rotate(180.0)"><path d="M-0.9,-6.00 L0.9,-6.00 L0.9,0.20 L3.7,-0.60 L0,6.00 L-3.7,-0.60 L-0.9,0.20 Z" fill="#000" opacity="0.35" transform="translate(1.0,0.5)" filter="url(#ab)"/><path d="M-0.9,-6.00 L0.9,-6.00 L0.9,0.20 L3.7,-0.60 L0,6.00 L-3.7,-0.60 L-0.9,0.20 Z" fill="#f6ecf6"/></g>
<g transform="translate(266.50,203.25) rotate(180.0)"><path d="M-0.9,-6.00 L0.9,-6.00 L0.9,0.20 L3.7,-0.60 L0,6.00 L-3.7,-0.60 L-0.9,0.20 Z" fill="#000" opacity="0.35" transform="translate(1.0,0.5)" filter="url(#ab)"/><path d="M-0.9,-6.00 L0.9,-6.00 L0.9,0.20 L3.7,-0.60 L0,6.00 L-3.7,-0.60 L-0.9,0.20 Z" fill="#f6ecf6"/></g>
<g transform="translate(289.00,208.25) rotate(180.0)"><path d="M-0.9,-5.00 L0.9,-5.00 L0.9,-0.80 L3.7,-1.60 L0,5.00 L-3.7,-1.60 L-0.9,-0.80 Z" fill="#000" opacity="0.35" transform="translate(1.0,0.5)" filter="url(#ab)"/><path d="M-0.9,-5.00 L0.9,-5.00 L0.9,-0.80 L3.7,-1.60 L0,5.00 L-3.7,-1.60 L-0.9,-0.80 Z" fill="#f6ecf6"/></g>
<g transform="translate(292.75,198.25) rotate(180.0)"><path d="M-0.9,-4.50 L0.9,-4.50 L0.9,-1.30 L3.7,-2.10 L0,4.50 L-3.7,-2.10 L-0.9,-1.30 Z" fill="#000" opacity="0.35" transform="translate(1.0,0.5)" filter="url(#ab)"/><path d="M-0.9,-4.50 L0.9,-4.50 L0.9,-1.30 L3.7,-2.10 L0,4.50 L-3.7,-2.10 L-0.9,-1.30 Z" fill="#f6ecf6"/></g>
<g transform="translate(327.75,210.75) rotate(180.0)"><path d="M-0.9,-5.50 L0.9,-5.50 L0.9,-0.30 L3.7,-1.10 L0,5.50 L-3.7,-1.10 L-0.9,-0.30 Z" fill="#000" opacity="0.35" transform="translate(1.0,0.5)" filter="url(#ab)"/><path d="M-0.9,-5.50 L0.9,-5.50 L0.9,-0.30 L3.7,-1.10 L0,5.50 L-3.7,-1.10 L-0.9,-0.30 Z" fill="#f6ecf6"/></g>
<path d="M43.80,139.50 L130.00,141.90 C133.12,141.79 142.50,141.67 148.75,141.25 C155.00,140.83 161.88,139.61 167.50,139.40 C173.12,139.19 178.33,139.28 182.50,140.00 C186.67,140.72 188.75,142.29 192.50,143.75 C196.25,145.21 198.75,147.29 205.00,148.75 C211.25,150.21 221.83,150.96 230.00,152.50 C238.17,154.04 247.33,156.17 254.00,158.00 C260.67,159.83 265.33,162.38 270.00,163.50 C274.67,164.62 277.83,164.12 282.00,164.70 C286.17,165.28 290.67,166.12 295.00,167.00 C299.33,167.88 304.33,169.67 308.00,170.00 C311.67,170.33 314.00,170.08 317.00,169.00 C320.00,167.92 323.00,165.47 326.00,163.50 C329.00,161.53 332.42,159.03 335.00,157.20 C337.58,155.37 338.58,154.58 341.50,152.50 C344.42,150.42 349.33,146.73 352.50,144.70 C355.67,142.67 358.58,141.28 360.50,140.30 C362.42,139.32 362.83,138.88 364.00,138.80 C365.17,138.72 366.62,139.07 367.50,139.80 C368.38,140.53 369.10,141.67 369.30,143.20 C369.50,144.73 369.08,147.00 368.70,149.00 C368.32,151.00 368.12,152.95 367.00,155.20 C365.88,157.45 364.10,160.45 362.00,162.50 C359.90,164.55 357.02,165.58 354.40,167.50 C351.78,169.42 348.62,171.47 346.30,174.00 C343.98,176.53 341.88,180.03 340.50,182.70 C339.12,185.37 338.62,187.87 338.00,190.00 C337.38,192.13 337.63,193.75 336.80,195.50 C335.97,197.25 334.47,199.50 333.00,200.50 C331.53,201.50 329.67,201.58 328.00,201.50 C326.33,201.42 325.17,200.75 323.00,200.00 C320.83,199.25 318.00,198.00 315.00,197.00 C312.00,196.00 309.17,194.75 305.00,194.00 C300.83,193.25 295.83,192.67 290.00,192.50 C284.17,192.33 280.00,193.10 270.00,193.00 C260.00,192.90 240.83,192.61 230.00,191.90 C219.17,191.19 212.29,190.32 205.00,188.75 C197.71,187.18 191.46,184.06 186.25,182.50 C181.04,180.94 178.96,179.82 173.75,179.40 C168.54,178.98 161.29,179.80 155.00,180.00 C148.71,180.20 139.17,180.50 136.00,180.60 L41.20,196.50 L43.80,139.50 Z" fill="#f7eada" stroke="#111" stroke-width="2.00" stroke-linejoin="round" filter="url(#sh)"/>
<g transform="translate(58.00,154.00) rotate(0.0)"><path d="M-6.6,0 L0.8,-4.2 L-0.2,-1.2 L6.3,-1.2 L6.3,1.2 L-0.2,1.2 L0.8,4.2 Z" fill="#b31b24" stroke="#94131b" stroke-width="0.35" stroke-linejoin="round"/></g>
<g transform="translate(89.00,152.50) rotate(0.0)"><path d="M-6.6,0 L0.8,-4.2 L-0.2,-1.2 L6.3,-1.2 L6.3,1.2 L-0.2,1.2 L0.8,4.2 Z" fill="#b31b24" stroke="#94131b" stroke-width="0.35" stroke-linejoin="round"/></g>
<g transform="translate(130.00,150.50) rotate(0.0)"><path d="M-6.6,0 L0.8,-4.2 L-0.2,-1.2 L6.3,-1.2 L6.3,1.2 L-0.2,1.2 L0.8,4.2 Z" fill="#b31b24" stroke="#94131b" stroke-width="0.35" stroke-linejoin="round"/></g>
<g transform="translate(171.00,148.70) rotate(0.0)"><path d="M-6.6,0 L0.8,-4.2 L-0.2,-1.2 L6.3,-1.2 L6.3,1.2 L-0.2,1.2 L0.8,4.2 Z" fill="#b31b24" stroke="#94131b" stroke-width="0.35" stroke-linejoin="round"/></g>
<g transform="translate(70.00,167.50) rotate(0.0)"><path d="M-6.6,0 L0.8,-4.2 L-0.2,-1.2 L6.3,-1.2 L6.3,1.2 L-0.2,1.2 L0.8,4.2 Z" fill="#b31b24" stroke="#94131b" stroke-width="0.35" stroke-linejoin="round"/></g>
<g transform="translate(110.00,165.80) rotate(0.0)"><path d="M-6.6,0 L0.8,-4.2 L-0.2,-1.2 L6.3,-1.2 L6.3,1.2 L-0.2,1.2 L0.8,4.2 Z" fill="#b31b24" stroke="#94131b" stroke-width="0.35" stroke-linejoin="round"/></g>
<g transform="translate(150.00,161.00) rotate(0.0)"><path d="M-6.6,0 L0.8,-4.2 L-0.2,-1.2 L6.3,-1.2 L6.3,1.2 L-0.2,1.2 L0.8,4.2 Z" fill="#b31b24" stroke="#94131b" stroke-width="0.35" stroke-linejoin="round"/></g>
<g transform="translate(192.00,166.00) rotate(0.0)"><path d="M-6.6,0 L0.8,-4.2 L-0.2,-1.2 L6.3,-1.2 L6.3,1.2 L-0.2,1.2 L0.8,4.2 Z" fill="#b31b24" stroke="#94131b" stroke-width="0.35" stroke-linejoin="round"/></g>
<g transform="translate(211.00,160.50) rotate(0.0)"><path d="M-6.6,0 L0.8,-4.2 L-0.2,-1.2 L6.3,-1.2 L6.3,1.2 L-0.2,1.2 L0.8,4.2 Z" fill="#b31b24" stroke="#94131b" stroke-width="0.35" stroke-linejoin="round"/></g>
<g transform="translate(57.80,184.00) rotate(0.0)"><path d="M-6.6,0 L0.8,-4.2 L-0.2,-1.2 L6.3,-1.2 L6.3,1.2 L-0.2,1.2 L0.8,4.2 Z" fill="#b31b24" stroke="#94131b" stroke-width="0.35" stroke-linejoin="round"/></g>
<g transform="translate(90.00,179.00) rotate(0.0)"><path d="M-6.6,0 L0.8,-4.2 L-0.2,-1.2 L6.3,-1.2 L6.3,1.2 L-0.2,1.2 L0.8,4.2 Z" fill="#b31b24" stroke="#94131b" stroke-width="0.35" stroke-linejoin="round"/></g>
<g transform="translate(131.00,174.50) rotate(0.0)"><path d="M-6.6,0 L0.8,-4.2 L-0.2,-1.2 L6.3,-1.2 L6.3,1.2 L-0.2,1.2 L0.8,4.2 Z" fill="#b31b24" stroke="#94131b" stroke-width="0.35" stroke-linejoin="round"/></g>
<g transform="translate(170.00,170.50) rotate(0.0)"><path d="M-6.6,0 L0.8,-4.2 L-0.2,-1.2 L6.3,-1.2 L6.3,1.2 L-0.2,1.2 L0.8,4.2 Z" fill="#b31b24" stroke="#94131b" stroke-width="0.35" stroke-linejoin="round"/></g>
<g transform="translate(227.50,177.00) rotate(0.0)"><path d="M-6.6,0 L0.8,-4.2 L-0.2,-1.2 L6.3,-1.2 L6.3,1.2 L-0.2,1.2 L0.8,4.2 Z" fill="#b31b24" stroke="#94131b" stroke-width="0.35" stroke-linejoin="round"/></g>
<g transform="translate(246.50,169.50) rotate(0.0)"><path d="M-6.6,0 L0.8,-4.2 L-0.2,-1.2 L6.3,-1.2 L6.3,1.2 L-0.2,1.2 L0.8,4.2 Z" fill="#b31b24" stroke="#94131b" stroke-width="0.35" stroke-linejoin="round"/></g>
<g transform="translate(263.00,183.50) rotate(0.0)"><path d="M-6.6,0 L0.8,-4.2 L-0.2,-1.2 L6.3,-1.2 L6.3,1.2 L-0.2,1.2 L0.8,4.2 Z" fill="#b31b24" stroke="#94131b" stroke-width="0.35" stroke-linejoin="round"/></g>
<g transform="translate(284.50,174.80) rotate(0.0)"><path d="M-6.6,0 L0.8,-4.2 L-0.2,-1.2 L6.3,-1.2 L6.3,1.2 L-0.2,1.2 L0.8,4.2 Z" fill="#b31b24" stroke="#94131b" stroke-width="0.35" stroke-linejoin="round"/></g>
<g transform="translate(303.00,185.00) rotate(0.0)"><path d="M-6.6,0 L0.8,-4.2 L-0.2,-1.2 L6.3,-1.2 L6.3,1.2 L-0.2,1.2 L0.8,4.2 Z" fill="#b31b24" stroke="#94131b" stroke-width="0.35" stroke-linejoin="round"/></g>
<g transform="translate(324.00,174.50) rotate(-35.0)"><path d="M-6.6,0 L0.8,-4.2 L-0.2,-1.2 L6.3,-1.2 L6.3,1.2 L-0.2,1.2 L0.8,4.2 Z" fill="#b31b24" stroke="#94131b" stroke-width="0.35" stroke-linejoin="round"/></g>
<g transform="translate(343.00,168.00) rotate(-35.0)"><path d="M-6.6,0 L0.8,-4.2 L-0.2,-1.2 L6.3,-1.2 L6.3,1.2 L-0.2,1.2 L0.8,4.2 Z" fill="#b31b24" stroke="#94131b" stroke-width="0.35" stroke-linejoin="round"/></g>
<g transform="translate(353.50,153.50) rotate(-40.0)"><path d="M-6.6,0 L0.8,-4.2 L-0.2,-1.2 L6.3,-1.2 L6.3,1.2 L-0.2,1.2 L0.8,4.2 Z" fill="#b31b24" stroke="#94131b" stroke-width="0.35" stroke-linejoin="round"/></g>
<g transform="translate(326.00,190.00) rotate(-12.0)"><path d="M-6.6,0 L0.8,-4.2 L-0.2,-1.2 L6.3,-1.2 L6.3,1.2 L-0.2,1.2 L0.8,4.2 Z" fill="#b31b24" stroke="#94131b" stroke-width="0.35" stroke-linejoin="round"/></g>
</g>
<g transform="translate(0.00,267.00)">
<g filter="url(#sh)">
<path d="M57.50,114.50 C67.08,114.75 97.50,115.29 115.00,116.00 C132.50,116.71 150.00,117.97 162.50,118.75 C175.00,119.53 181.35,119.56 190.00,120.70 C198.65,121.84 210.33,124.78 214.40,125.60 L214.40,207.00 C208.67,206.72 193.07,205.43 180.00,205.30 C166.93,205.18 143.33,206.09 136.00,206.25 L57.25,221.30 L57.50,114.50 Z" fill="#fff" stroke="#111" stroke-width="2.00" stroke-linejoin="round"/>
<path d="M119.00,140.50 C121.33,139.17 128.17,135.25 133.00,132.50 C137.83,129.75 144.17,125.93 148.00,124.00 C151.83,122.07 153.00,121.68 156.00,120.90 C159.00,120.12 164.33,119.57 166.00,119.30 C170.00,119.53 181.93,119.65 190.00,120.70 C198.07,121.75 206.28,123.84 214.40,125.60 C222.53,127.36 230.65,129.22 238.75,131.25 C246.85,133.28 258.96,136.67 263.00,137.75 L263.00,211.00 C259.17,211.33 246.96,212.85 240.00,213.00 C233.04,213.15 229.17,212.72 221.25,211.90 C213.33,211.08 201.46,209.25 192.50,208.10 C183.54,206.95 175.92,205.48 167.50,205.00 C159.08,204.52 146.25,205.17 142.00,205.20 C141.12,204.45 138.50,202.48 136.75,200.70 C135.00,198.92 133.54,197.45 131.50,194.50 C129.46,191.55 125.67,184.92 124.50,183.00 L119.00,140.50 Z" fill="#fff" stroke="#111" stroke-width="2.00" stroke-linejoin="round"/>
<path d="M206.25,149.00 C209.54,146.75 221.94,138.18 226.00,135.50 C230.06,132.82 228.47,133.61 230.60,132.90 C232.72,132.19 237.39,131.53 238.75,131.25 C242.79,132.33 254.88,135.58 263.00,137.75 C271.12,139.92 280.17,142.38 287.50,144.25 C294.83,146.12 303.75,148.21 307.00,149.00 L307.00,213.00 C303.33,212.92 296.17,212.50 285.00,212.50 C273.83,212.50 250.50,213.17 240.00,213.00 C229.50,212.83 225.00,211.75 222.00,211.50 C220.33,209.42 215.00,202.83 212.00,199.00 C209.00,195.17 205.33,190.25 204.00,188.50 L206.25,149.00 Z" fill="#8b4f80" stroke="#111" stroke-width="2.00" stroke-linejoin="round"/>
<path d="M281.00,164.50 L306.90,150.00 C309.33,148.53 316.57,144.41 321.50,141.20 C326.43,137.99 331.92,133.32 336.50,130.75 C341.08,128.18 344.83,126.79 349.00,125.75 C353.17,124.71 357.75,124.29 361.50,124.50 C365.25,124.71 368.58,125.54 371.50,127.00 C374.42,128.46 377.02,130.75 379.00,133.25 C380.98,135.75 382.57,138.88 383.40,142.00 C384.23,145.12 384.15,148.67 384.00,152.00 C383.85,155.33 383.42,158.83 382.50,162.00 C381.58,165.17 380.50,168.33 378.50,171.00 C376.50,173.67 373.33,175.17 370.50,178.00 C367.67,180.83 364.58,184.00 361.50,188.00 C358.42,192.00 354.58,197.92 352.00,202.00 C349.42,206.08 348.33,209.83 346.00,212.50 C343.67,215.17 340.62,216.88 338.00,218.00 C335.38,219.12 333.62,219.27 330.25,219.20 C326.88,219.13 321.92,218.15 317.75,217.60 C313.58,217.05 308.62,216.30 305.25,215.90 C301.88,215.50 298.79,215.32 297.50,215.20 C296.17,213.42 291.75,208.05 289.50,204.50 C287.25,200.95 284.92,195.67 284.00,193.90 L281.00,164.50 Z" fill="#8b4f80" stroke="#111" stroke-width="2.00" stroke-linejoin="round"/>
</g>
<g transform="translate(224.00,145.70) rotate(0.0)"><path d="M-0.9,-4.50 L0.9,-4.50 L0.9,-1.30 L3.7,-2.10 L0,4.50 L-3.7,-2.10 L-0.9,-1.30 Z" fill="#000" opacity="0.35" transform="translate(1.0,0.5)" filter="url(#ab)"/><path d="M-0.9,-4.50 L0.9,-4.50 L0.9,-1.30 L3.7,-2.10 L0,4.50 L-3.7,-2.10 L-0.9,-1.30 Z" fill="#f6ecf6"/></g>
<g transform="translate(245.25,147.00) rotate(0.0)"><path d="M-0.9,-6.00 L0.9,-6.00 L0.9,0.20 L3.7,-0.60 L0,6.00 L-3.7,-0.60 L-0.9,0.20 Z" fill="#000" opacity="0.35" transform="translate(1.0,0.5)" filter="url(#ab)"/><path d="M-0.9,-6.00 L0.9,-6.00 L0.9,0.20 L3.7,-0.60 L0,6.00 L-3.7,-0.60 L-0.9,0.20 Z" fill="#f6ecf6"/></g>
<g transform="translate(261.50,149.50) rotate(0.0)"><path d="M-0.9,-6.00 L0.9,-6.00 L0.9,0.20 L3.7,-0.60 L0,6.00 L-3.7,-0.60 L-0.9,0.20 Z" fill="#000" opacity="0.35" transform="translate(1.0,0.5)" filter="url(#ab)"/><path d="M-0.9,-6.00 L0.9,-6.00 L0.9,0.20 L3.7,-0.60 L0,6.00 L-3.7,-0.60 L-0.9,0.20 Z" fill="#f6ecf6"/></g>
<g transform="translate(289.00,152.00) rotate(0.0)"><path d="M-0.9,-5.00 L0.9,-5.00 L0.9,-0.80 L3.7,-1.60 L0,5.00 L-3.7,-1.60 L-0.9,-0.80 Z" fill="#000" opacity="0.35" transform="translate(1.0,0.5)" filter="url(#ab)"/><path d="M-0.9,-5.00 L0.9,-5.00 L0.9,-0.80 L3.7,-1.60 L0,5.00 L-3.7,-1.60 L-0.9,-0.80 Z" fill="#f6ecf6"/></g>
<g transform="translate(300.25,163.00) rotate(0.0)"><path d="M-0.9,-4.50 L0.9,-4.50 L0.9,-1.30 L3.7,-2.10 L0,4.50 L-3.7,-2.10 L-0.9,-1.30 Z" fill="#000" opacity="0.35" transform="translate(1.0,0.5)" filter="url(#ab)"/><path d="M-0.9,-4.50 L0.9,-4.50 L0.9,-1.30 L3.7,-2.10 L0,4.50 L-3.7,-2.10 L-0.9,-1.30 Z" fill="#f6ecf6"/></g>
<g transform="translate(323.50,154.00) rotate(-35.0)"><path d="M-0.9,-6.00 L0.9,-6.00 L0.9,0.20 L3.7,-0.60 L0,6.00 L-3.7,-0.60 L-0.9,0.20 Z" fill="#000" opacity="0.35" transform="translate(1.0,0.5)" filter="url(#ab)"/><path d="M-0.9,-6.00 L0.9,-6.00 L0.9,0.20 L3.7,-0.60 L0,6.00 L-3.7,-0.60 L-0.9,0.20 Z" fill="#f6ecf6"/></g>
<g transform="translate(341.50,140.20) rotate(-35.0)"><path d="M-0.9,-6.00 L0.9,-6.00 L0.9,0.20 L3.7,-0.60 L0,6.00 L-3.7,-0.60 L-0.9,0.20 Z" fill="#000" opacity="0.35" transform="translate(1.0,0.5)" filter="url(#ab)"/><path d="M-0.9,-6.00 L0.9,-6.00 L0.9,0.20 L3.7,-0.60 L0,6.00 L-3.7,-0.60 L-0.9,0.20 Z" fill="#f6ecf6"/></g>
<g transform="translate(371.50,161.00) rotate(120.0)"><path d="M-0.9,-5.50 L0.9,-5.50 L0.9,-0.30 L3.7,-1.10 L0,5.50 L-3.7,-1.10 L-0.9,-0.30 Z" fill="#000" opacity="0.35" transform="translate(1.0,0.5)" filter="url(#ab)"/><path d="M-0.9,-5.50 L0.9,-5.50 L0.9,-0.30 L3.7,-1.10 L0,5.50 L-3.7,-1.10 L-0.9,-0.30 Z" fill="#f6ecf6"/></g>
<g transform="translate(349.00,187.00) rotate(120.0)"><path d="M-0.9,-5.50 L0.9,-5.50 L0.9,-0.30 L3.7,-1.10 L0,5.50 L-3.7,-1.10 L-0.9,-0.30 Z" fill="#000" opacity="0.35" transform="translate(1.0,0.5)" filter="url(#ab)"/><path d="M-0.9,-5.50 L0.9,-5.50 L0.9,-0.30 L3.7,-1.10 L0,5.50 L-3.7,-1.10 L-0.9,-0.30 Z" fill="#f6ecf6"/></g>
<g transform="translate(217.75,197.00) rotate(180.0)"><path d="M-0.9,-4.50 L0.9,-4.50 L0.9,-1.30 L3.7,-2.10 L0,4.50 L-3.7,-2.10 L-0.9,-1.30 Z" fill="#000" opacity="0.35" transform="translate(1.0,0.5)" filter="url(#ab)"/><path d="M-0.9,-4.50 L0.9,-4.50 L0.9,-1.30 L3.7,-2.10 L0,4.50 L-3.7,-2.10 L-0.9,-1.30 Z" fill="#f6ecf6"/></g>
<g transform="translate(240.25,202.00) rotate(180.0)"><path d="M-0.9,-6.00 L0.9,-6.00 L0.9,0.20 L3.7,-0.60 L0,6.00 L-3.7,-0.60 L-0.9,0.20 Z" fill="#000" opacity="0.35" transform="translate(1.0,0.5)" filter="url(#ab)"/><path d="M-0.9,-6.00 L0.9,-6.00 L0.9,0.20 L3.7,-0.60 L0,6.00 L-3.7,-0.60 L-0.9,0.20 Z" fill="#f6ecf6"/></g>
<g transform="translate(266.50,203.25) rotate(180.0)"><path d="M-0.9,-6.00 L0.9,-6.00 L0.9,0.20 L3.7,-0.60 L0,6.00 L-3.7,-0.60 L-0.9,0.20 Z" fill="#000" opacity="0.35" transform="translate(1.0,0.5)" filter="url(#ab)"/><path d="M-0.9,-6.00 L0.9,-6.00 L0.9,0.20 L3.7,-0.60 L0,6.00 L-3.7,-0.60 L-0.9,0.20 Z" fill="#f6ecf6"/></g>
<g transform="translate(289.00,208.25) rotate(180.0)"><path d="M-0.9,-5.00 L0.9,-5.00 L0.9,-0.80 L3.7,-1.60 L0,5.00 L-3.7,-1.60 L-0.9,-0.80 Z" fill="#000" opacity="0.35" transform="translate(1.0,0.5)" filter="url(#ab)"/><path d="M-0.9,-5.00 L0.9,-5.00 L0.9,-0.80 L3.7,-1.60 L0,5.00 L-3.7,-1.60 L-0.9,-0.80 Z" fill="#f6ecf6"/></g>
<g transform="translate(292.75,198.25) rotate(180.0)"><path d="M-0.9,-4.50 L0.9,-4.50 L0.9,-1.30 L3.7,-2.10 L0,4.50 L-3.7,-2.10 L-0.9,-1.30 Z" fill="#000" opacity="0.35" transform="translate(1.0,0.5)" filter="url(#ab)"/><path d="M-0.9,-4.50 L0.9,-4.50 L0.9,-1.30 L3.7,-2.10 L0,4.50 L-3.7,-2.10 L-0.9,-1.30 Z" fill="#f6ecf6"/></g>
<g transform="translate(327.75,210.75) rotate(180.0)"><path d="M-0.9,-5.50 L0.9,-5.50 L0.9,-0.30 L3.7,-1.10 L0,5.50 L-3.7,-1.10 L-0.9,-0.30 Z" fill="#000" opacity="0.35" transform="translate(1.0,0.5)" filter="url(#ab)"/><path d="M-0.9,-5.50 L0.9,-5.50 L0.9,-0.30 L3.7,-1.10 L0,5.50 L-3.7,-1.10 L-0.9,-0.30 Z" fill="#f6ecf6"/></g>
<path d="M43.80,139.50 L130.00,141.90 C133.12,141.79 142.50,141.67 148.75,141.25 C155.00,140.83 161.88,139.61 167.50,139.40 C173.12,139.19 178.33,139.28 182.50,140.00 C186.67,140.72 188.75,142.29 192.50,143.75 C196.25,145.21 198.75,147.29 205.00,148.75 C211.25,150.21 221.83,150.96 230.00,152.50 C238.17,154.04 247.33,156.17 254.00,158.00 C260.67,159.83 265.33,162.38 270.00,163.50 C274.67,164.62 277.83,164.12 282.00,164.70 C286.17,165.28 290.67,166.12 295.00,167.00 C299.33,167.88 304.33,169.67 308.00,170.00 C311.67,170.33 314.00,170.08 317.00,169.00 C320.00,167.92 323.00,165.47 326.00,163.50 C329.00,161.53 332.42,159.03 335.00,157.20 C337.58,155.37 338.58,154.58 341.50,152.50 C344.42,150.42 349.33,146.73 352.50,144.70 C355.67,142.67 358.58,141.28 360.50,140.30 C362.42,139.32 362.83,138.88 364.00,138.80 C365.17,138.72 366.62,139.07 367.50,139.80 C368.38,140.53 369.10,141.67 369.30,143.20 C369.50,144.73 369.08,147.00 368.70,149.00 C368.32,151.00 368.12,152.95 367.00,155.20 C365.88,157.45 364.10,160.45 362.00,162.50 C359.90,164.55 357.02,165.58 354.40,167.50 C351.78,169.42 348.62,171.47 346.30,174.00 C343.98,176.53 341.88,180.03 340.50,182.70 C339.12,185.37 338.62,187.87 338.00,190.00 C337.38,192.13 337.63,193.75 336.80,195.50 C335.97,197.25 334.47,199.50 333.00,200.50 C331.53,201.50 329.67,201.58 328.00,201.50 C326.33,201.42 325.17,200.75 323.00,200.00 C320.83,199.25 318.00,198.00 315.00,197.00 C312.00,196.00 309.17,194.75 305.00,194.00 C300.83,193.25 295.83,192.67 290.00,192.50 C284.17,192.33 280.00,193.10 270.00,193.00 C260.00,192.90 240.83,192.61 230.00,191.90 C219.17,191.19 212.29,190.32 205.00,188.75 C197.71,187.18 191.46,184.06 186.25,182.50 C181.04,180.94 178.96,179.82 173.75,179.40 C168.54,178.98 161.29,179.80 155.00,180.00 C148.71,180.20 139.17,180.50 136.00,180.60 L41.20,196.50 L43.80,139.50 Z" fill="#f7eada" stroke="#111" stroke-width="2.00" stroke-linejoin="round" filter="url(#sh)"/>
<g transform="translate(58.00,154.00) rotate(0.0)"><path d="M-6.6,0 L0.8,-4.2 L-0.2,-1.2 L6.3,-1.2 L6.3,1.2 L-0.2,1.2 L0.8,4.2 Z" fill="#b31b24" stroke="#94131b" stroke-width="0.35" stroke-linejoin="round"/></g>
<g transform="translate(89.00,152.50) rotate(0.0)"><path d="M-6.6,0 L0.8,-4.2 L-0.2,-1.2 L6.3,-1.2 L6.3,1.2 L-0.2,1.2 L0.8,4.2 Z" fill="#b31b24" stroke="#94131b" stroke-width="0.35" stroke-linejoin="round"/></g>
<g transform="translate(130.00,150.50) rotate(0.0)"><path d="M-6.6,0 L0.8,-4.2 L-0.2,-1.2 L6.3,-1.2 L6.3,1.2 L-0.2,1.2 L0.8,4.2 Z" fill="#b31b24" stroke="#94131b" stroke-width="0.35" stroke-linejoin="round"/></g>
<g transform="translate(171.00,148.70) rotate(0.0)"><path d="M-6.6,0 L0.8,-4.2 L-0.2,-1.2 L6.3,-1.2 L6.3,1.2 L-0.2,1.2 L0.8,4.2 Z" fill="#b31b24" stroke="#94131b" stroke-width="0.35" stroke-linejoin="round"/></g>
<g transform="translate(70.00,167.50) rotate(0.0)"><path d="M-6.6,0 L0.8,-4.2 L-0.2,-1.2 L6.3,-1.2 L6.3,1.2 L-0.2,1.2 L0.8,4.2 Z" fill="#b31b24" stroke="#94131b" stroke-width="0.35" stroke-linejoin="round"/></g>
<g transform="translate(110.00,165.80) rotate(0.0)"><path d="M-6.6,0 L0.8,-4.2 L-0.2,-1.2 L6.3,-1.2 L6.3,1.2 L-0.2,1.2 L0.8,4.2 Z" fill="#b31b24" stroke="#94131b" stroke-width="0.35" stroke-linejoin="round"/></g>
<g transform="translate(150.00,161.00) rotate(0.0)"><path d="M-6.6,0 L0.8,-4.2 L-0.2,-1.2 L6.3,-1.2 L6.3,1.2 L-0.2,1.2 L0.8,4.2 Z" fill="#b31b24" stroke="#94131b" stroke-width="0.35" stroke-linejoin="round"/></g>
<g transform="translate(192.00,166.00) rotate(0.0)"><path d="M-6.6,0 L0.8,-4.2 L-0.2,-1.2 L6.3,-1.2 L6.3,1.2 L-0.2,1.2 L0.8,4.2 Z" fill="#b31b24" stroke="#94131b" stroke-width="0.35" stroke-linejoin="round"/></g>
<g transform="translate(211.00,160.50) rotate(0.0)"><path d="M-6.6,0 L0.8,-4.2 L-0.2,-1.2 L6.3,-1.2 L6.3,1.2 L-0.2,1.2 L0.8,4.2 Z" fill="#b31b24" stroke="#94131b" stroke-width="0.35" stroke-linejoin="round"/></g>
<g transform="translate(57.80,184.00) rotate(0.0)"><path d="M-6.6,0 L0.8,-4.2 L-0.2,-1.2 L6.3,-1.2 L6.3,1.2 L-0.2,1.2 L0.8,4.2 Z" fill="#b31b24" stroke="#94131b" stroke-width="0.35" stroke-linejoin="round"/></g>
<g transform="translate(90.00,179.00) rotate(0.0)"><path d="M-6.6,0 L0.8,-4.2 L-0.2,-1.2 L6.3,-1.2 L6.3,1.2 L-0.2,1.2 L0.8,4.2 Z" fill="#b31b24" stroke="#94131b" stroke-width="0.35" stroke-linejoin="round"/></g>
<g transform="translate(131.00,174.50) rotate(0.0)"><path d="M-6.6,0 L0.8,-4.2 L-0.2,-1.2 L6.3,-1.2 L6.3,1.2 L-0.2,1.2 L0.8,4.2 Z" fill="#b31b24" stroke="#94131b" stroke-width="0.35" stroke-linejoin="round"/></g>
<g transform="translate(170.00,170.50) rotate(0.0)"><path d="M-6.6,0 L0.8,-4.2 L-0.2,-1.2 L6.3,-1.2 L6.3,1.2 L-0.2,1.2 L0.8,4.2 Z" fill="#b31b24" stroke="#94131b" stroke-width="0.35" stroke-linejoin="round"/></g>
<g transform="translate(227.50,177.00) rotate(0.0)"><path d="M-6.6,0 L0.8,-4.2 L-0.2,-1.2 L6.3,-1.2 L6.3,1.2 L-0.2,1.2 L0.8,4.2 Z" fill="#b31b24" stroke="#94131b" stroke-width="0.35" stroke-linejoin="round"/></g>
<g transform="translate(246.50,169.50) rotate(0.0)"><path d="M-6.6,0 L0.8,-4.2 L-0.2,-1.2 L6.3,-1.2 L6.3,1.2 L-0.2,1.2 L0.8,4.2 Z" fill="#b31b24" stroke="#94131b" stroke-width="0.35" stroke-linejoin="round"/></g>
<g transform="translate(263.00,183.50) rotate(0.0)"><path d="M-6.6,0 L0.8,-4.2 L-0.2,-1.2 L6.3,-1.2 L6.3,1.2 L-0.2,1.2 L0.8,4.2 Z" fill="#b31b24" stroke="#94131b" stroke-width="0.35" stroke-linejoin="round"/></g>
<g transform="translate(284.50,174.80) rotate(0.0)"><path d="M-6.6,0 L0.8,-4.2 L-0.2,-1.2 L6.3,-1.2 L6.3,1.2 L-0.2,1.2 L0.8,4.2 Z" fill="#b31b24" stroke="#94131b" stroke-width="0.35" stroke-linejoin="round"/></g>
<g transform="translate(303.00,185.00) rotate(0.0)"><path d="M-6.6,0 L0.8,-4.2 L-0.2,-1.2 L6.3,-1.2 L6.3,1.2 L-0.2,1.2 L0.8,4.2 Z" fill="#b31b24" stroke="#94131b" stroke-width="0.35" stroke-linejoin="round"/></g>
<g transform="translate(324.00,174.50) rotate(-35.0)"><path d="M-6.6,0 L0.8,-4.2 L-0.2,-1.2 L6.3,-1.2 L6.3,1.2 L-0.2,1.2 L0.8,4.2 Z" fill="#b31b24" stroke="#94131b" stroke-width="0.35" stroke-linejoin="round"/></g>
<g transform="translate(343.00,168.00) rotate(-35.0)"><path d="M-6.6,0 L0.8,-4.2 L-0.2,-1.2 L6.3,-1.2 L6.3,1.2 L-0.2,1.2 L0.8,4.2 Z" fill="#b31b24" stroke="#94131b" stroke-width="0.35" stroke-linejoin="round"/></g>
<g transform="translate(353.50,153.50) rotate(-40.0)"><path d="M-6.6,0 L0.8,-4.2 L-0.2,-1.2 L6.3,-1.2 L6.3,1.2 L-0.2,1.2 L0.8,4.2 Z" fill="#b31b24" stroke="#94131b" stroke-width="0.35" stroke-linejoin="round"/></g>
<g transform="translate(326.00,190.00) rotate(-12.0)"><path d="M-6.6,0 L0.8,-4.2 L-0.2,-1.2 L6.3,-1.2 L6.3,1.2 L-0.2,1.2 L0.8,4.2 Z" fill="#b31b24" stroke="#94131b" stroke-width="0.35" stroke-linejoin="round"/></g>
</g>
<g transform="translate(376.50,266.40)">
<g filter="url(#sh)">
<path d="M57.50,114.50 C67.08,114.75 97.50,115.29 115.00,116.00 C132.50,116.71 150.00,117.97 162.50,118.75 C175.00,119.53 181.35,119.56 190.00,120.70 C198.65,121.84 210.33,124.78 214.40,125.60 L214.40,207.00 C208.67,206.72 193.07,205.43 180.00,205.30 C166.93,205.18 143.33,206.09 136.00,206.25 L57.25,221.30 L57.50,114.50 Z" fill="#fff" stroke="#111" stroke-width="2.00" stroke-linejoin="round"/>
<path d="M119.00,140.50 C121.33,139.17 128.17,135.25 133.00,132.50 C137.83,129.75 144.17,125.93 148.00,124.00 C151.83,122.07 153.00,121.68 156.00,120.90 C159.00,120.12 164.33,119.57 166.00,119.30 C170.00,119.53 181.93,119.65 190.00,120.70 C198.07,121.75 206.28,123.84 214.40,125.60 C222.53,127.36 230.65,129.22 238.75,131.25 C246.85,133.28 258.96,136.67 263.00,137.75 L263.00,211.00 C259.17,211.33 246.96,212.85 240.00,213.00 C233.04,213.15 229.17,212.72 221.25,211.90 C213.33,211.08 201.46,209.25 192.50,208.10 C183.54,206.95 175.92,205.48 167.50,205.00 C159.08,204.52 146.25,205.17 142.00,205.20 C141.12,204.45 138.50,202.48 136.75,200.70 C135.00,198.92 133.54,197.45 131.50,194.50 C129.46,191.55 125.67,184.92 124.50,183.00 L119.00,140.50 Z" fill="#fff" stroke="#111" stroke-width="2.00" stroke-linejoin="round"/>
<path d="M206.25,149.00 C209.54,146.75 221.94,138.18 226.00,135.50 C230.06,132.82 228.47,133.61 230.60,132.90 C232.72,132.19 237.39,131.53 238.75,131.25 C242.79,132.33 254.88,135.58 263.00,137.75 C271.12,139.92 280.17,142.38 287.50,144.25 C294.83,146.12 303.75,148.21 307.00,149.00 L307.00,213.00 C303.33,212.92 296.17,212.50 285.00,212.50 C273.83,212.50 250.50,213.17 240.00,213.00 C229.50,212.83 225.00,211.75 222.00,211.50 C220.33,209.42 215.00,202.83 212.00,199.00 C209.00,195.17 205.33,190.25 204.00,188.50 L206.25,149.00 Z" fill="#fff" stroke="#111" stroke-width="2.00" stroke-linejoin="round"/>
<path d="M281.00,164.50 L306.90,150.00 C309.33,148.53 316.57,144.41 321.50,141.20 C326.43,137.99 331.92,133.32 336.50,130.75 C341.08,128.18 344.83,126.79 349.00,125.75 C353.17,124.71 357.75,124.29 361.50,124.50 C365.25,124.71 368.58,125.54 371.50,127.00 C374.42,128.46 377.02,130.75 379.00,133.25 C380.98,135.75 382.57,138.88 383.40,142.00 C384.23,145.12 384.15,148.67 384.00,152.00 C383.85,155.33 383.42,158.83 382.50,162.00 C381.58,165.17 380.50,168.33 378.50,171.00 C376.50,173.67 373.33,175.17 370.50,178.00 C367.67,180.83 364.58,184.00 361.50,188.00 C358.42,192.00 354.58,197.92 352.00,202.00 C349.42,206.08 348.33,209.83 346.00,212.50 C343.67,215.17 340.62,216.88 338.00,218.00 C335.38,219.12 333.62,219.27 330.25,219.20 C326.88,219.13 321.92,218.15 317.75,217.60 C313.58,217.05 308.62,216.30 305.25,215.90 C301.88,215.50 298.79,215.32 297.50,215.20 C296.17,213.42 291.75,208.05 289.50,204.50 C287.25,200.95 284.92,195.67 284.00,193.90 L281.00,164.50 Z" fill="#fff" stroke="#111" stroke-width="2.00" stroke-linejoin="round"/>
</g>
<path d="M43.80,139.50 L130.00,141.90 C133.12,141.79 142.50,141.67 148.75,141.25 C155.00,140.83 161.88,139.61 167.50,139.40 C173.12,139.19 178.33,139.28 182.50,140.00 C186.67,140.72 188.75,142.29 192.50,143.75 C196.25,145.21 198.75,147.29 205.00,148.75 C211.25,150.21 221.83,150.96 230.00,152.50 C238.17,154.04 247.33,156.17 254.00,158.00 C260.67,159.83 265.33,162.38 270.00,163.50 C274.67,164.62 277.83,164.12 282.00,164.70 C286.17,165.28 290.67,166.12 295.00,167.00 C299.33,167.88 304.33,169.67 308.00,170.00 C311.67,170.33 314.00,170.08 317.00,169.00 C320.00,167.92 323.00,165.47 326.00,163.50 C329.00,161.53 332.42,159.03 335.00,157.20 C337.58,155.37 338.58,154.58 341.50,152.50 C344.42,150.42 349.33,146.73 352.50,144.70 C355.67,142.67 358.58,141.28 360.50,140.30 C362.42,139.32 362.83,138.88 364.00,138.80 C365.17,138.72 366.62,139.07 367.50,139.80 C368.38,140.53 369.10,141.67 369.30,143.20 C369.50,144.73 369.08,147.00 368.70,149.00 C368.32,151.00 368.12,152.95 367.00,155.20 C365.88,157.45 364.10,160.45 362.00,162.50 C359.90,164.55 357.02,165.58 354.40,167.50 C351.78,169.42 348.62,171.47 346.30,174.00 C343.98,176.53 341.88,180.03 340.50,182.70 C339.12,185.37 338.62,187.87 338.00,190.00 C337.38,192.13 337.63,193.75 336.80,195.50 C335.97,197.25 334.47,199.50 333.00,200.50 C331.53,201.50 329.67,201.58 328.00,201.50 C326.33,201.42 325.17,200.75 323.00,200.00 C320.83,199.25 318.00,198.00 315.00,197.00 C312.00,196.00 309.17,194.75 305.00,194.00 C300.83,193.25 295.83,192.67 290.00,192.50 C284.17,192.33 280.00,193.10 270.00,193.00 C260.00,192.90 240.83,192.61 230.00,191.90 C219.17,191.19 212.29,190.32 205.00,188.75 C197.71,187.18 191.46,184.06 186.25,182.50 C181.04,180.94 178.96,179.82 173.75,179.40 C168.54,178.98 161.29,179.80 155.00,180.00 C148.71,180.20 139.17,180.50 136.00,180.60 L41.20,196.50 L43.80,139.50 Z" fill="#f7eada" stroke="#111" stroke-width="2.00" stroke-linejoin="round" filter="url(#sh)"/>
<g transform="translate(58.00,154.00) rotate(0.0)"><path d="M-6.6,0 L0.8,-4.2 L-0.2,-1.2 L6.3,-1.2 L6.3,1.2 L-0.2,1.2 L0.8,4.2 Z" fill="#b31b24" stroke="#94131b" stroke-width="0.35" stroke-linejoin="round"/></g>
<g transform="translate(89.00,152.50) rotate(0.0)"><path d="M-6.6,0 L0.8,-4.2 L-0.2,-1.2 L6.3,-1.2 L6.3,1.2 L-0.2,1.2 L0.8,4.2 Z" fill="#b31b24" stroke="#94131b" stroke-width="0.35" stroke-linejoin="round"/></g>
<g transform="translate(130.00,150.50) rotate(0.0)"><path d="M-6.6,0 L0.8,-4.2 L-0.2,-1.2 L6.3,-1.2 L6.3,1.2 L-0.2,1.2 L0.8,4.2 Z" fill="#b31b24" stroke="#94131b" stroke-width="0.35" stroke-linejoin="round"/></g>
<g transform="translate(171.00,148.70) rotate(0.0)"><path d="M-6.6,0 L0.8,-4.2 L-0.2,-1.2 L6.3,-1.2 L6.3,1.2 L-0.2,1.2 L0.8,4.2 Z" fill="#b31b24" stroke="#94131b" stroke-width="0.35" stroke-linejoin="round"/></g>
<g transform="translate(70.00,167.50) rotate(0.0)"><path d="M-6.6,0 L0.8,-4.2 L-0.2,-1.2 L6.3,-1.2 L6.3,1.2 L-0.2,1.2 L0.8,4.2 Z" fill="#b31b24" stroke="#94131b" stroke-width="0.35" stroke-linejoin="round"/></g>
<g transform="translate(110.00,165.80) rotate(0.0)"><path d="M-6.6,0 L0.8,-4.2 L-0.2,-1.2 L6.3,-1.2 L6.3,1.2 L-0.2,1.2 L0.8,4.2 Z" fill="#b31b24" stroke="#94131b" stroke-width="0.35" stroke-linejoin="round"/></g>
<g transform="translate(150.00,161.00) rotate(0.0)"><path d="M-6.6,0 L0.8,-4.2 L-0.2,-1.2 L6.3,-1.2 L6.3,1.2 L-0.2,1.2 L0.8,4.2 Z" fill="#b31b24" stroke="#94131b" stroke-width="0.35" stroke-linejoin="round"/></g>
<g transform="translate(192.00,166.00) rotate(0.0)"><path d="M-6.6,0 L0.8,-4.2 L-0.2,-1.2 L6.3,-1.2 L6.3,1.2 L-0.2,1.2 L0.8,4.2 Z" fill="#b31b24" stroke="#94131b" stroke-width="0.35" stroke-linejoin="round"/></g>
<g transform="translate(211.00,160.50) rotate(0.0)"><path d="M-6.6,0 L0.8,-4.2 L-0.2,-1.2 L6.3,-1.2 L6.3,1.2 L-0.2,1.2 L0.8,4.2 Z" fill="#b31b24" stroke="#94131b" stroke-width="0.35" stroke-linejoin="round"/></g>
<g transform="translate(57.80,184.00) rotate(0.0)"><path d="M-6.6,0 L0.8,-4.2 L-0.2,-1.2 L6.3,-1.2 L6.3,1.2 L-0.2,1.2 L0.8,4.2 Z" fill="#b31b24" stroke="#94131b" stroke-width="0.35" stroke-linejoin="round"/></g>
<g transform="translate(90.00,179.00) rotate(0.0)"><path d="M-6.6,0 L0.8,-4.2 L-0.2,-1.2 L6.3,-1.2 L6.3,1.2 L-0.2,1.2 L0.8,4.2 Z" fill="#b31b24" stroke="#94131b" stroke-width="0.35" stroke-linejoin="round"/></g>
<g transform="translate(131.00,174.50) rotate(0.0)"><path d="M-6.6,0 L0.8,-4.2 L-0.2,-1.2 L6.3,-1.2 L6.3,1.2 L-0.2,1.2 L0.8,4.2 Z" fill="#b31b24" stroke="#94131b" stroke-width="0.35" stroke-linejoin="round"/></g>
<g transform="translate(170.00,170.50) rotate(0.0)"><path d="M-6.6,0 L0.8,-4.2 L-0.2,-1.2 L6.3,-1.2 L6.3,1.2 L-0.2,1.2 L0.8,4.2 Z" fill="#b31b24" stroke="#94131b" stroke-width="0.35" stroke-linejoin="round"/></g>
<g transform="translate(227.50,177.00) rotate(0.0)"><path d="M-6.6,0 L0.8,-4.2 L-0.2,-1.2 L6.3,-1.2 L6.3,1.2 L-0.2,1.2 L0.8,4.2 Z" fill="#b31b24" stroke="#94131b" stroke-width="0.35" stroke-linejoin="round"/></g>
<g transform="translate(246.50,169.50) rotate(0.0)"><path d="M-6.6,0 L0.8,-4.2 L-0.2,-1.2 L6.3,-1.2 L6.3,1.2 L-0.2,1.2 L0.8,4.2 Z" fill="#b31b24" stroke="#94131b" stroke-width="0.35" stroke-linejoin="round"/></g>
<g transform="translate(263.00,183.50) rotate(0.0)"><path d="M-6.6,0 L0.8,-4.2 L-0.2,-1.2 L6.3,-1.2 L6.3,1.2 L-0.2,1.2 L0.8,4.2 Z" fill="#b31b24" stroke="#94131b" stroke-width="0.35" stroke-linejoin="round"/></g>
<g transform="translate(284.50,174.80) rotate(0.0)"><path d="M-6.6,0 L0.8,-4.2 L-0.2,-1.2 L6.3,-1.2 L6.3,1.2 L-0.2,1.2 L0.8,4.2 Z" fill="#b31b24" stroke="#94131b" stroke-width="0.35" stroke-linejoin="round"/></g>
<g transform="translate(303.00,185.00) rotate(0.0)"><path d="M-6.6,0 L0.8,-4.2 L-0.2,-1.2 L6.3,-1.2 L6.3,1.2 L-0.2,1.2 L0.8,4.2 Z" fill="#b31b24" stroke="#94131b" stroke-width="0.35" stroke-linejoin="round"/></g>
<g transform="translate(324.00,174.50) rotate(-35.0)"><path d="M-6.6,0 L0.8,-4.2 L-0.2,-1.2 L6.3,-1.2 L6.3,1.2 L-0.2,1.2 L0.8,4.2 Z" fill="#b31b24" stroke="#94131b" stroke-width="0.35" stroke-linejoin="round"/></g>
<g transform="translate(343.00,168.00) rotate(-35.0)"><path d="M-6.6,0 L0.8,-4.2 L-0.2,-1.2 L6.3,-1.2 L6.3,1.2 L-0.2,1.2 L0.8,4.2 Z" fill="#b31b24" stroke="#94131b" stroke-width="0.35" stroke-linejoin="round"/></g>
<g transform="translate(353.50,153.50) rotate(-40.0)"><path d="M-6.6,0 L0.8,-4.2 L-0.2,-1.2 L6.3,-1.2 L6.3,1.2 L-0.2,1.2 L0.8,4.2 Z" fill="#b31b24" stroke="#94131b" stroke-width="0.35" stroke-linejoin="round"/></g>
<g transform="translate(326.00,190.00) rotate(-12.0)"><path d="M-6.6,0 L0.8,-4.2 L-0.2,-1.2 L6.3,-1.2 L6.3,1.2 L-0.2,1.2 L0.8,4.2 Z" fill="#b31b24" stroke="#94131b" stroke-width="0.35" stroke-linejoin="round"/></g>
</g>
<g transform="translate(0.00,400.50)">
<g filter="url(#sh)">
<path d="M57.50,114.50 C67.08,114.75 97.50,115.29 115.00,116.00 C132.50,116.71 150.00,117.97 162.50,118.75 C175.00,119.53 181.35,119.56 190.00,120.70 C198.65,121.84 210.33,124.78 214.40,125.60 L214.40,207.00 C208.67,206.72 193.07,205.43 180.00,205.30 C166.93,205.18 143.33,206.09 136.00,206.25 L57.25,221.30 L57.50,114.50 Z" fill="#8b4f80" stroke="#111" stroke-width="2.00" stroke-linejoin="round"/>
<path d="M119.00,140.50 C121.33,139.17 128.17,135.25 133.00,132.50 C137.83,129.75 144.17,125.93 148.00,124.00 C151.83,122.07 153.00,121.68 156.00,120.90 C159.00,120.12 164.33,119.57 166.00,119.30 C170.00,119.53 181.93,119.65 190.00,120.70 C198.07,121.75 206.28,123.84 214.40,125.60 C222.53,127.36 230.65,129.22 238.75,131.25 C246.85,133.28 258.96,136.67 263.00,137.75 L263.00,211.00 C259.17,211.33 246.96,212.85 240.00,213.00 C233.04,213.15 229.17,212.72 221.25,211.90 C213.33,211.08 201.46,209.25 192.50,208.10 C183.54,206.95 175.92,205.48 167.50,205.00 C159.08,204.52 146.25,205.17 142.00,205.20 C141.12,204.45 138.50,202.48 136.75,200.70 C135.00,198.92 133.54,197.45 131.50,194.50 C129.46,191.55 125.67,184.92 124.50,183.00 L119.00,140.50 Z" fill="#8b4f80" stroke="#111" stroke-width="2.00" stroke-linejoin="round"/>
<path d="M206.25,149.00 C209.54,146.75 221.94,138.18 226.00,135.50 C230.06,132.82 228.47,133.61 230.60,132.90 C232.72,132.19 237.39,131.53 238.75,131.25 C242.79,132.33 254.88,135.58 263.00,137.75 C271.12,139.92 280.17,142.38 287.50,144.25 C294.83,146.12 303.75,148.21 307.00,149.00 L307.00,213.00 C303.33,212.92 296.17,212.50 285.00,212.50 C273.83,212.50 250.50,213.17 240.00,213.00 C229.50,212.83 225.00,211.75 222.00,211.50 C220.33,209.42 215.00,202.83 212.00,199.00 C209.00,195.17 205.33,190.25 204.00,188.50 L206.25,149.00 Z" fill="url(#gradL4)" stroke="#111" stroke-width="2.00" stroke-linejoin="round"/>
<path d="M281.00,164.50 L306.90,150.00 C309.33,148.53 316.57,144.41 321.50,141.20 C326.43,137.99 331.92,133.32 336.50,130.75 C341.08,128.18 344.83,126.79 349.00,125.75 C353.17,124.71 357.75,124.29 361.50,124.50 C365.25,124.71 368.58,125.54 371.50,127.00 C374.42,128.46 377.02,130.75 379.00,133.25 C380.98,135.75 382.57,138.88 383.40,142.00 C384.23,145.12 384.15,148.67 384.00,152.00 C383.85,155.33 383.42,158.83 382.50,162.00 C381.58,165.17 380.50,168.33 378.50,171.00 C376.50,173.67 373.33,175.17 370.50,178.00 C367.67,180.83 364.58,184.00 361.50,188.00 C358.42,192.00 354.58,197.92 352.00,202.00 C349.42,206.08 348.33,209.83 346.00,212.50 C343.67,215.17 340.62,216.88 338.00,218.00 C335.38,219.12 333.62,219.27 330.25,219.20 C326.88,219.13 321.92,218.15 317.75,217.60 C313.58,217.05 308.62,216.30 305.25,215.90 C301.88,215.50 298.79,215.32 297.50,215.20 C296.17,213.42 291.75,208.05 289.50,204.50 C287.25,200.95 284.92,195.67 284.00,193.90 L281.00,164.50 Z" fill="#fff" stroke="#111" stroke-width="2.00" stroke-linejoin="round"/>
</g>
<g transform="translate(72.80,130.70) rotate(0.0)"><path d="M-0.9,-6.00 L0.9,-6.00 L0.9,0.20 L3.7,-0.60 L0,6.00 L-3.7,-0.60 L-0.9,0.20 Z" fill="#000" opacity="0.35" transform="translate(1.0,0.5)" filter="url(#ab)"/><path d="M-0.9,-6.00 L0.9,-6.00 L0.9,0.20 L3.7,-0.60 L0,6.00 L-3.7,-0.60 L-0.9,0.20 Z" fill="#f6ecf6"/></g>
<g transform="translate(98.25,131.80) rotate(0.0)"><path d="M-0.9,-6.00 L0.9,-6.00 L0.9,0.20 L3.7,-0.60 L0,6.00 L-3.7,-0.60 L-0.9,0.20 Z" fill="#000" opacity="0.35" transform="translate(1.0,0.5)" filter="url(#ab)"/><path d="M-0.9,-6.00 L0.9,-6.00 L0.9,0.20 L3.7,-0.60 L0,6.00 L-3.7,-0.60 L-0.9,0.20 Z" fill="#f6ecf6"/></g>
<g transform="translate(125.70,127.30) rotate(0.0)"><path d="M-0.9,-4.50 L0.9,-4.50 L0.9,-1.30 L3.7,-2.10 L0,4.50 L-3.7,-2.10 L-0.9,-1.30 Z" fill="#000" opacity="0.35" transform="translate(1.0,0.5)" filter="url(#ab)"/><path d="M-0.9,-4.50 L0.9,-4.50 L0.9,-1.30 L3.7,-2.10 L0,4.50 L-3.7,-2.10 L-0.9,-1.30 Z" fill="#f6ecf6"/></g>
<g transform="translate(134.25,137.30) rotate(0.0)"><path d="M-0.9,-4.50 L0.9,-4.50 L0.9,-1.30 L3.7,-2.10 L0,4.50 L-3.7,-2.10 L-0.9,-1.30 Z" fill="#000" opacity="0.35" transform="translate(1.0,0.5)" filter="url(#ab)"/><path d="M-0.9,-4.50 L0.9,-4.50 L0.9,-1.30 L3.7,-2.10 L0,4.50 L-3.7,-2.10 L-0.9,-1.30 Z" fill="#f6ecf6"/></g>
<g transform="translate(158.50,130.70) rotate(0.0)"><path d="M-0.9,-6.00 L0.9,-6.00 L0.9,0.20 L3.7,-0.60 L0,6.00 L-3.7,-0.60 L-0.9,0.20 Z" fill="#000" opacity="0.35" transform="translate(1.0,0.5)" filter="url(#ab)"/><path d="M-0.9,-6.00 L0.9,-6.00 L0.9,0.20 L3.7,-0.60 L0,6.00 L-3.7,-0.60 L-0.9,0.20 Z" fill="#f6ecf6"/></g>
<g transform="translate(182.20,132.90) rotate(0.0)"><path d="M-0.9,-6.00 L0.9,-6.00 L0.9,0.20 L3.7,-0.60 L0,6.00 L-3.7,-0.60 L-0.9,0.20 Z" fill="#000" opacity="0.35" transform="translate(1.0,0.5)" filter="url(#ab)"/><path d="M-0.9,-6.00 L0.9,-6.00 L0.9,0.20 L3.7,-0.60 L0,6.00 L-3.7,-0.60 L-0.9,0.20 Z" fill="#f6ecf6"/></g>
<g transform="translate(208.50,136.80) rotate(0.0)"><path d="M-0.9,-5.00 L0.9,-5.00 L0.9,-0.80 L3.7,-1.60 L0,5.00 L-3.7,-1.60 L-0.9,-0.80 Z" fill="#000" opacity="0.35" transform="translate(1.0,0.5)" filter="url(#ab)"/><path d="M-0.9,-5.00 L0.9,-5.00 L0.9,-0.80 L3.7,-1.60 L0,5.00 L-3.7,-1.60 L-0.9,-0.80 Z" fill="#f6ecf6"/></g>
<g transform="translate(224.00,145.70) rotate(0.0)"><path d="M-0.9,-4.50 L0.9,-4.50 L0.9,-1.30 L3.7,-2.10 L0,4.50 L-3.7,-2.10 L-0.9,-1.30 Z" fill="#000" opacity="0.37" transform="translate(1.0,0.5)" filter="url(#ab)"/><path d="M-0.9,-4.50 L0.9,-4.50 L0.9,-1.30 L3.7,-2.10 L0,4.50 L-3.7,-2.10 L-0.9,-1.30 Z" fill="#f6ecf6"/></g>
<g transform="translate(245.25,147.00) rotate(0.0)"><path d="M-0.9,-6.00 L0.9,-6.00 L0.9,0.20 L3.7,-0.60 L0,6.00 L-3.7,-0.60 L-0.9,0.20 Z" fill="#000" opacity="0.39" transform="translate(1.0,0.5)" filter="url(#ab)"/><path d="M-0.9,-6.00 L0.9,-6.00 L0.9,0.20 L3.7,-0.60 L0,6.00 L-3.7,-0.60 L-0.9,0.20 Z" fill="#f6ecf6"/></g>
<g transform="translate(261.50,149.50) rotate(0.0)"><path d="M-0.9,-6.00 L0.9,-6.00 L0.9,0.20 L3.7,-0.60 L0,6.00 L-3.7,-0.60 L-0.9,0.20 Z" fill="#000" opacity="0.41" transform="translate(1.0,0.5)" filter="url(#ab)"/><path d="M-0.9,-6.00 L0.9,-6.00 L0.9,0.20 L3.7,-0.60 L0,6.00 L-3.7,-0.60 L-0.9,0.20 Z" fill="#f6ecf6"/></g>
<g transform="translate(289.00,152.00) rotate(0.0)"><path d="M-0.9,-5.00 L0.9,-5.00 L0.9,-0.80 L3.7,-1.60 L0,5.00 L-3.7,-1.60 L-0.9,-0.80 Z" fill="#000" opacity="0.43" transform="translate(1.0,0.5)" filter="url(#ab)"/><path d="M-0.9,-5.00 L0.9,-5.00 L0.9,-0.80 L3.7,-1.60 L0,5.00 L-3.7,-1.60 L-0.9,-0.80 Z" fill="#f6ecf6"/></g>
<g transform="translate(300.25,163.00) rotate(0.0)"><path d="M-0.9,-4.50 L0.9,-4.50 L0.9,-1.30 L3.7,-2.10 L0,4.50 L-3.7,-2.10 L-0.9,-1.30 Z" fill="#000" opacity="0.60" transform="translate(1.0,0.5)" filter="url(#ab)"/><path d="M-0.9,-4.50 L0.9,-4.50 L0.9,-1.30 L3.7,-2.10 L0,4.50 L-3.7,-2.10 L-0.9,-1.30 Z" fill="#fdfdfd"/></g>
<g transform="translate(323.50,154.00) rotate(-35.0)"><path d="M-0.9,-6.00 L0.9,-6.00 L0.9,0.20 L3.7,-0.60 L0,6.00 L-3.7,-0.60 L-0.9,0.20 Z" fill="#000" opacity="0.60" transform="translate(1.0,0.5)" filter="url(#ab)"/><path d="M-0.9,-6.00 L0.9,-6.00 L0.9,0.20 L3.7,-0.60 L0,6.00 L-3.7,-0.60 L-0.9,0.20 Z" fill="#fdfdfd"/></g>
<g transform="translate(341.50,140.20) rotate(-35.0)"><path d="M-0.9,-6.00 L0.9,-6.00 L0.9,0.20 L3.7,-0.60 L0,6.00 L-3.7,-0.60 L-0.9,0.20 Z" fill="#000" opacity="0.60" transform="translate(1.0,0.5)" filter="url(#ab)"/><path d="M-0.9,-6.00 L0.9,-6.00 L0.9,0.20 L3.7,-0.60 L0,6.00 L-3.7,-0.60 L-0.9,0.20 Z" fill="#fdfdfd"/></g>
<g transform="translate(371.50,161.00) rotate(120.0)"><path d="M-0.9,-5.50 L0.9,-5.50 L0.9,-0.30 L3.7,-1.10 L0,5.50 L-3.7,-1.10 L-0.9,-0.30 Z" fill="#000" opacity="0.60" transform="translate(1.0,0.5)" filter="url(#ab)"/><path d="M-0.9,-5.50 L0.9,-5.50 L0.9,-0.30 L3.7,-1.10 L0,5.50 L-3.7,-1.10 L-0.9,-0.30 Z" fill="#fdfdfd"/></g>
<g transform="translate(349.00,187.00) rotate(120.0)"><path d="M-0.9,-5.50 L0.9,-5.50 L0.9,-0.30 L3.7,-1.10 L0,5.50 L-3.7,-1.10 L-0.9,-0.30 Z" fill="#000" opacity="0.60" transform="translate(1.0,0.5)" filter="url(#ab)"/><path d="M-0.9,-5.50 L0.9,-5.50 L0.9,-0.30 L3.7,-1.10 L0,5.50 L-3.7,-1.10 L-0.9,-0.30 Z" fill="#fdfdfd"/></g>
<g transform="translate(72.80,207.20) rotate(180.0)"><path d="M-0.9,-6.00 L0.9,-6.00 L0.9,0.20 L3.7,-0.60 L0,6.00 L-3.7,-0.60 L-0.9,0.20 Z" fill="#000" opacity="0.35" transform="translate(1.0,0.5)" filter="url(#ab)"/><path d="M-0.9,-6.00 L0.9,-6.00 L0.9,0.20 L3.7,-0.60 L0,6.00 L-3.7,-0.60 L-0.9,0.20 Z" fill="#f6ecf6"/></g>
<g transform="translate(98.25,201.55) rotate(180.0)"><path d="M-0.9,-6.00 L0.9,-6.00 L0.9,0.20 L3.7,-0.60 L0,6.00 L-3.7,-0.60 L-0.9,0.20 Z" fill="#000" opacity="0.35" transform="translate(1.0,0.5)" filter="url(#ab)"/><path d="M-0.9,-6.00 L0.9,-6.00 L0.9,0.20 L3.7,-0.60 L0,6.00 L-3.7,-0.60 L-0.9,0.20 Z" fill="#f6ecf6"/></g>
<g transform="translate(121.90,201.55) rotate(180.0)"><path d="M-0.9,-4.50 L0.9,-4.50 L0.9,-1.30 L3.7,-2.10 L0,4.50 L-3.7,-2.10 L-0.9,-1.30 Z" fill="#000" opacity="0.35" transform="translate(1.0,0.5)" filter="url(#ab)"/><path d="M-0.9,-4.50 L0.9,-4.50 L0.9,-1.30 L3.7,-2.10 L0,4.50 L-3.7,-2.10 L-0.9,-1.30 Z" fill="#f6ecf6"/></g>
<g transform="translate(129.75,191.30) rotate(180.0)"><path d="M-0.9,-4.50 L0.9,-4.50 L0.9,-1.30 L3.7,-2.10 L0,4.50 L-3.7,-2.10 L-0.9,-1.30 Z" fill="#000" opacity="0.35" transform="translate(1.0,0.5)" filter="url(#ab)"/><path d="M-0.9,-4.50 L0.9,-4.50 L0.9,-1.30 L3.7,-2.10 L0,4.50 L-3.7,-2.10 L-0.9,-1.30 Z" fill="#f6ecf6"/></g>
<g transform="translate(156.75,193.70) rotate(180.0)"><path d="M-0.9,-6.00 L0.9,-6.00 L0.9,0.20 L3.7,-0.60 L0,6.00 L-3.7,-0.60 L-0.9,0.20 Z" fill="#000" opacity="0.35" transform="translate(1.0,0.5)" filter="url(#ab)"/><path d="M-0.9,-6.00 L0.9,-6.00 L0.9,0.20 L3.7,-0.60 L0,6.00 L-3.7,-0.60 L-0.9,0.20 Z" fill="#f6ecf6"/></g>
<g transform="translate(179.25,195.90) rotate(180.0)"><path d="M-0.9,-6.00 L0.9,-6.00 L0.9,0.20 L3.7,-0.60 L0,6.00 L-3.7,-0.60 L-0.9,0.20 Z" fill="#000" opacity="0.35" transform="translate(1.0,0.5)" filter="url(#ab)"/><path d="M-0.9,-6.00 L0.9,-6.00 L0.9,0.20 L3.7,-0.60 L0,6.00 L-3.7,-0.60 L-0.9,0.20 Z" fill="#f6ecf6"/></g>
<g transform="translate(202.25,204.30) rotate(180.0)"><path d="M-0.9,-5.00 L0.9,-5.00 L0.9,-0.80 L3.7,-1.60 L0,5.00 L-3.7,-1.60 L-0.9,-0.80 Z" fill="#000" opacity="0.35" transform="translate(1.0,0.5)" filter="url(#ab)"/><path d="M-0.9,-5.00 L0.9,-5.00 L0.9,-0.80 L3.7,-1.60 L0,5.00 L-3.7,-1.60 L-0.9,-0.80 Z" fill="#f6ecf6"/></g>
<g transform="translate(217.75,197.00) rotate(180.0)"><path d="M-0.9,-4.50 L0.9,-4.50 L0.9,-1.30 L3.7,-2.10 L0,4.50 L-3.7,-2.10 L-0.9,-1.30 Z" fill="#000" opacity="0.36" transform="translate(1.0,0.5)" filter="url(#ab)"/><path d="M-0.9,-4.50 L0.9,-4.50 L0.9,-1.30 L3.7,-2.10 L0,4.50 L-3.7,-2.10 L-0.9,-1.30 Z" fill="#f6ecf6"/></g>
<g transform="translate(240.25,202.00) rotate(180.0)"><path d="M-0.9,-6.00 L0.9,-6.00 L0.9,0.20 L3.7,-0.60 L0,6.00 L-3.7,-0.60 L-0.9,0.20 Z" fill="#000" opacity="0.39" transform="translate(1.0,0.5)" filter="url(#ab)"/><path d="M-0.9,-6.00 L0.9,-6.00 L0.9,0.20 L3.7,-0.60 L0,6.00 L-3.7,-0.60 L-0.9,0.20 Z" fill="#f6ecf6"/></g>
<g transform="translate(266.50,203.25) rotate(180.0)"><path d="M-0.9,-6.00 L0.9,-6.00 L0.9,0.20 L3.7,-0.60 L0,6.00 L-3.7,-0.60 L-0.9,0.20 Z" fill="#000" opacity="0.41" transform="translate(1.0,0.5)" filter="url(#ab)"/><path d="M-0.9,-6.00 L0.9,-6.00 L0.9,0.20 L3.7,-0.60 L0,6.00 L-3.7,-0.60 L-0.9,0.20 Z" fill="#f6ecf6"/></g>
<g transform="translate(289.00,208.25) rotate(180.0)"><path d="M-0.9,-5.00 L0.9,-5.00 L0.9,-0.80 L3.7,-1.60 L0,5.00 L-3.7,-1.60 L-0.9,-0.80 Z" fill="#000" opacity="0.43" transform="translate(1.0,0.5)" filter="url(#ab)"/><path d="M-0.9,-5.00 L0.9,-5.00 L0.9,-0.80 L3.7,-1.60 L0,5.00 L-3.7,-1.60 L-0.9,-0.80 Z" fill="#f6ecf6"/></g>
<g transform="translate(292.75,198.25) rotate(180.0)"><path d="M-0.9,-4.50 L0.9,-4.50 L0.9,-1.30 L3.7,-2.10 L0,4.50 L-3.7,-2.10 L-0.9,-1.30 Z" fill="#000" opacity="0.60" transform="translate(1.0,0.5)" filter="url(#ab)"/><path d="M-0.9,-4.50 L0.9,-4.50 L0.9,-1.30 L3.7,-2.10 L0,4.50 L-3.7,-2.10 L-0.9,-1.30 Z" fill="#fdfdfd"/></g>
<g transform="translate(327.75,210.75) rotate(180.0)"><path d="M-0.9,-5.50 L0.9,-5.50 L0.9,-0.30 L3.7,-1.10 L0,5.50 L-3.7,-1.10 L-0.9,-0.30 Z" fill="#000" opacity="0.60" transform="translate(1.0,0.5)" filter="url(#ab)"/><path d="M-0.9,-5.50 L0.9,-5.50 L0.9,-0.30 L3.7,-1.10 L0,5.50 L-3.7,-1.10 L-0.9,-0.30 Z" fill="#fdfdfd"/></g>
<path d="M43.80,139.50 L130.00,141.90 C133.12,141.79 142.50,141.67 148.75,141.25 C155.00,140.83 161.88,139.61 167.50,139.40 C173.12,139.19 178.33,139.28 182.50,140.00 C186.67,140.72 188.75,142.29 192.50,143.75 C196.25,145.21 198.75,147.29 205.00,148.75 C211.25,150.21 221.83,150.96 230.00,152.50 C238.17,154.04 247.33,156.17 254.00,158.00 C260.67,159.83 265.33,162.38 270.00,163.50 C274.67,164.62 277.83,164.12 282.00,164.70 C286.17,165.28 290.67,166.12 295.00,167.00 C299.33,167.88 304.33,169.67 308.00,170.00 C311.67,170.33 314.00,170.08 317.00,169.00 C320.00,167.92 323.00,165.47 326.00,163.50 C329.00,161.53 332.42,159.03 335.00,157.20 C337.58,155.37 338.58,154.58 341.50,152.50 C344.42,150.42 349.33,146.73 352.50,144.70 C355.67,142.67 358.58,141.28 360.50,140.30 C362.42,139.32 362.83,138.88 364.00,138.80 C365.17,138.72 366.62,139.07 367.50,139.80 C368.38,140.53 369.10,141.67 369.30,143.20 C369.50,144.73 369.08,147.00 368.70,149.00 C368.32,151.00 368.12,152.95 367.00,155.20 C365.88,157.45 364.10,160.45 362.00,162.50 C359.90,164.55 357.02,165.58 354.40,167.50 C351.78,169.42 348.62,171.47 346.30,174.00 C343.98,176.53 341.88,180.03 340.50,182.70 C339.12,185.37 338.62,187.87 338.00,190.00 C337.38,192.13 337.63,193.75 336.80,195.50 C335.97,197.25 334.47,199.50 333.00,200.50 C331.53,201.50 329.67,201.58 328.00,201.50 C326.33,201.42 325.17,200.75 323.00,200.00 C320.83,199.25 318.00,198.00 315.00,197.00 C312.00,196.00 309.17,194.75 305.00,194.00 C300.83,193.25 295.83,192.67 290.00,192.50 C284.17,192.33 280.00,193.10 270.00,193.00 C260.00,192.90 240.83,192.61 230.00,191.90 C219.17,191.19 212.29,190.32 205.00,188.75 C197.71,187.18 191.46,184.06 186.25,182.50 C181.04,180.94 178.96,179.82 173.75,179.40 C168.54,178.98 161.29,179.80 155.00,180.00 C148.71,180.20 139.17,180.50 136.00,180.60 L41.20,196.50 L43.80,139.50 Z" fill="#f7eada" stroke="#111" stroke-width="2.00" stroke-linejoin="round" filter="url(#sh)"/>
<g transform="translate(58.00,154.00) rotate(0.0)"><path d="M-6.6,0 L0.8,-4.2 L-0.2,-1.2 L6.3,-1.2 L6.3,1.2 L-0.2,1.2 L0.8,4.2 Z" fill="#b31b24" stroke="#94131b" stroke-width="0.35" stroke-linejoin="round"/></g>
<g transform="translate(89.00,152.50) rotate(0.0)"><path d="M-6.6,0 L0.8,-4.2 L-0.2,-1.2 L6.3,-1.2 L6.3,1.2 L-0.2,1.2 L0.8,4.2 Z" fill="#b31b24" stroke="#94131b" stroke-width="0.35" stroke-linejoin="round"/></g>
<g transform="translate(130.00,150.50) rotate(0.0)"><path d="M-6.6,0 L0.8,-4.2 L-0.2,-1.2 L6.3,-1.2 L6.3,1.2 L-0.2,1.2 L0.8,4.2 Z" fill="#b31b24" stroke="#94131b" stroke-width="0.35" stroke-linejoin="round"/></g>
<g transform="translate(171.00,148.70) rotate(0.0)"><path d="M-6.6,0 L0.8,-4.2 L-0.2,-1.2 L6.3,-1.2 L6.3,1.2 L-0.2,1.2 L0.8,4.2 Z" fill="#b31b24" stroke="#94131b" stroke-width="0.35" stroke-linejoin="round"/></g>
<g transform="translate(70.00,167.50) rotate(0.0)"><path d="M-6.6,0 L0.8,-4.2 L-0.2,-1.2 L6.3,-1.2 L6.3,1.2 L-0.2,1.2 L0.8,4.2 Z" fill="#b31b24" stroke="#94131b" stroke-width="0.35" stroke-linejoin="round"/></g>
<g transform="translate(110.00,165.80) rotate(0.0)"><path d="M-6.6,0 L0.8,-4.2 L-0.2,-1.2 L6.3,-1.2 L6.3,1.2 L-0.2,1.2 L0.8,4.2 Z" fill="#b31b24" stroke="#94131b" stroke-width="0.35" stroke-linejoin="round"/></g>
<g transform="translate(150.00,161.00) rotate(0.0)"><path d="M-6.6,0 L0.8,-4.2 L-0.2,-1.2 L6.3,-1.2 L6.3,1.2 L-0.2,1.2 L0.8,4.2 Z" fill="#b31b24" stroke="#94131b" stroke-width="0.35" stroke-linejoin="round"/></g>
<g transform="translate(192.00,166.00) rotate(0.0)"><path d="M-6.6,0 L0.8,-4.2 L-0.2,-1.2 L6.3,-1.2 L6.3,1.2 L-0.2,1.2 L0.8,4.2 Z" fill="#b31b24" stroke="#94131b" stroke-width="0.35" stroke-linejoin="round"/></g>
<g transform="translate(211.00,160.50) rotate(0.0)"><path d="M-6.6,0 L0.8,-4.2 L-0.2,-1.2 L6.3,-1.2 L6.3,1.2 L-0.2,1.2 L0.8,4.2 Z" fill="#b31b24" stroke="#94131b" stroke-width="0.35" stroke-linejoin="round"/></g>
<g transform="translate(57.80,184.00) rotate(0.0)"><path d="M-6.6,0 L0.8,-4.2 L-0.2,-1.2 L6.3,-1.2 L6.3,1.2 L-0.2,1.2 L0.8,4.2 Z" fill="#b31b24" stroke="#94131b" stroke-width="0.35" stroke-linejoin="round"/></g>
<g transform="translate(90.00,179.00) rotate(0.0)"><path d="M-6.6,0 L0.8,-4.2 L-0.2,-1.2 L6.3,-1.2 L6.3,1.2 L-0.2,1.2 L0.8,4.2 Z" fill="#b31b24" stroke="#94131b" stroke-width="0.35" stroke-linejoin="round"/></g>
<g transform="translate(131.00,174.50) rotate(0.0)"><path d="M-6.6,0 L0.8,-4.2 L-0.2,-1.2 L6.3,-1.2 L6.3,1.2 L-0.2,1.2 L0.8,4.2 Z" fill="#b31b24" stroke="#94131b" stroke-width="0.35" stroke-linejoin="round"/></g>
<g transform="translate(170.00,170.50) rotate(0.0)"><path d="M-6.6,0 L0.8,-4.2 L-0.2,-1.2 L6.3,-1.2 L6.3,1.2 L-0.2,1.2 L0.8,4.2 Z" fill="#b31b24" stroke="#94131b" stroke-width="0.35" stroke-linejoin="round"/></g>
<g transform="translate(227.50,177.00) rotate(0.0)"><path d="M-6.6,0 L0.8,-4.2 L-0.2,-1.2 L6.3,-1.2 L6.3,1.2 L-0.2,1.2 L0.8,4.2 Z" fill="#b31b24" stroke="#94131b" stroke-width="0.35" stroke-linejoin="round"/></g>
<g transform="translate(246.50,169.50) rotate(0.0)"><path d="M-6.6,0 L0.8,-4.2 L-0.2,-1.2 L6.3,-1.2 L6.3,1.2 L-0.2,1.2 L0.8,4.2 Z" fill="#b31b24" stroke="#94131b" stroke-width="0.35" stroke-linejoin="round"/></g>
<g transform="translate(263.00,183.50) rotate(0.0)"><path d="M-6.6,0 L0.8,-4.2 L-0.2,-1.2 L6.3,-1.2 L6.3,1.2 L-0.2,1.2 L0.8,4.2 Z" fill="#b31b24" stroke="#94131b" stroke-width="0.35" stroke-linejoin="round"/></g>
<g transform="translate(284.50,174.80) rotate(0.0)"><path d="M-6.6,0 L0.8,-4.2 L-0.2,-1.2 L6.3,-1.2 L6.3,1.2 L-0.2,1.2 L0.8,4.2 Z" fill="#b31b24" stroke="#94131b" stroke-width="0.35" stroke-linejoin="round"/></g>
<g transform="translate(303.00,185.00) rotate(0.0)"><path d="M-6.6,0 L0.8,-4.2 L-0.2,-1.2 L6.3,-1.2 L6.3,1.2 L-0.2,1.2 L0.8,4.2 Z" fill="#b31b24" stroke="#94131b" stroke-width="0.35" stroke-linejoin="round"/></g>
<g transform="translate(324.00,174.50) rotate(-35.0)"><path d="M-6.6,0 L0.8,-4.2 L-0.2,-1.2 L6.3,-1.2 L6.3,1.2 L-0.2,1.2 L0.8,4.2 Z" fill="#b31b24" stroke="#94131b" stroke-width="0.35" stroke-linejoin="round"/></g>
<g transform="translate(343.00,168.00) rotate(-35.0)"><path d="M-6.6,0 L0.8,-4.2 L-0.2,-1.2 L6.3,-1.2 L6.3,1.2 L-0.2,1.2 L0.8,4.2 Z" fill="#b31b24" stroke="#94131b" stroke-width="0.35" stroke-linejoin="round"/></g>
<g transform="translate(353.50,153.50) rotate(-40.0)"><path d="M-6.6,0 L0.8,-4.2 L-0.2,-1.2 L6.3,-1.2 L6.3,1.2 L-0.2,1.2 L0.8,4.2 Z" fill="#b31b24" stroke="#94131b" stroke-width="0.35" stroke-linejoin="round"/></g>
<g transform="translate(326.00,190.00) rotate(-12.0)"><path d="M-6.6,0 L0.8,-4.2 L-0.2,-1.2 L6.3,-1.2 L6.3,1.2 L-0.2,1.2 L0.8,4.2 Z" fill="#b31b24" stroke="#94131b" stroke-width="0.35" stroke-linejoin="round"/></g>
</g>
<g transform="translate(376.00,400.50)">
<g filter="url(#sh)">
<path d="M57.50,114.50 C67.08,114.75 97.50,115.29 115.00,116.00 C132.50,116.71 150.00,117.97 162.50,118.75 C175.00,119.53 181.35,119.56 190.00,120.70 C198.65,121.84 210.33,124.78 214.40,125.60 L214.40,207.00 C208.67,206.72 193.07,205.43 180.00,205.30 C166.93,205.18 143.33,206.09 136.00,206.25 L57.25,221.30 L57.50,114.50 Z" fill="#8b4f80" stroke="#111" stroke-width="2.00" stroke-linejoin="round"/>
<path d="M119.00,140.50 C121.33,139.17 128.17,135.25 133.00,132.50 C137.83,129.75 144.17,125.93 148.00,124.00 C151.83,122.07 153.00,121.68 156.00,120.90 C159.00,120.12 164.33,119.57 166.00,119.30 C170.00,119.53 181.93,119.65 190.00,120.70 C198.07,121.75 206.28,123.84 214.40,125.60 C222.53,127.36 230.65,129.22 238.75,131.25 C246.85,133.28 258.96,136.67 263.00,137.75 L263.00,211.00 C259.17,211.33 246.96,212.85 240.00,213.00 C233.04,213.15 229.17,212.72 221.25,211.90 C213.33,211.08 201.46,209.25 192.50,208.10 C183.54,206.95 175.92,205.48 167.50,205.00 C159.08,204.52 146.25,205.17 142.00,205.20 C141.12,204.45 138.50,202.48 136.75,200.70 C135.00,198.92 133.54,197.45 131.50,194.50 C129.46,191.55 125.67,184.92 124.50,183.00 L119.00,140.50 Z" fill="#8b4f80" stroke="#111" stroke-width="2.00" stroke-linejoin="round"/>
<path d="M206.25,149.00 C209.54,146.75 221.94,138.18 226.00,135.50 C230.06,132.82 228.47,133.61 230.60,132.90 C232.72,132.19 237.39,131.53 238.75,131.25 C242.79,132.33 254.88,135.58 263.00,137.75 C271.12,139.92 280.17,142.38 287.50,144.25 C294.83,146.12 303.75,148.21 307.00,149.00 L307.00,213.00 C303.33,212.92 296.17,212.50 285.00,212.50 C273.83,212.50 250.50,213.17 240.00,213.00 C229.50,212.83 225.00,211.75 222.00,211.50 C220.33,209.42 215.00,202.83 212.00,199.00 C209.00,195.17 205.33,190.25 204.00,188.50 L206.25,149.00 Z" fill="#8b4f80" stroke="#111" stroke-width="2.00" stroke-linejoin="round"/>
<path d="M281.00,164.50 L306.90,150.00 C309.33,148.53 316.57,144.41 321.50,141.20 C326.43,137.99 331.92,133.32 336.50,130.75 C341.08,128.18 344.83,126.79 349.00,125.75 C353.17,124.71 357.75,124.29 361.50,124.50 C365.25,124.71 368.58,125.54 371.50,127.00 C374.42,128.46 377.02,130.75 379.00,133.25 C380.98,135.75 382.57,138.88 383.40,142.00 C384.23,145.12 384.15,148.67 384.00,152.00 C383.85,155.33 383.42,158.83 382.50,162.00 C381.58,165.17 380.50,168.33 378.50,171.00 C376.50,173.67 373.33,175.17 370.50,178.00 C367.67,180.83 364.58,184.00 361.50,188.00 C358.42,192.00 354.58,197.92 352.00,202.00 C349.42,206.08 348.33,209.83 346.00,212.50 C343.67,215.17 340.62,216.88 338.00,218.00 C335.38,219.12 333.62,219.27 330.25,219.20 C326.88,219.13 321.92,218.15 317.75,217.60 C313.58,217.05 308.62,216.30 305.25,215.90 C301.88,215.50 298.79,215.32 297.50,215.20 C296.17,213.42 291.75,208.05 289.50,204.50 C287.25,200.95 284.92,195.67 284.00,193.90 L281.00,164.50 Z" fill="#8b4f80" stroke="#111" stroke-width="2.00" stroke-linejoin="round"/>
</g>
<g transform="translate(78.30,128.40) rotate(0.0)"><path d="M-0.9,-6.00 L0.9,-6.00 L0.9,0.20 L3.7,-0.60 L0,6.00 L-3.7,-0.60 L-0.9,0.20 Z" fill="#000" opacity="0.35" transform="translate(1.0,0.5)" filter="url(#ab)"/><path d="M-0.9,-6.00 L0.9,-6.00 L0.9,0.20 L3.7,-0.60 L0,6.00 L-3.7,-0.60 L-0.9,0.20 Z" fill="#f6ecf6"/></g>
<g transform="translate(103.75,129.50) rotate(0.0)"><path d="M-0.9,-6.00 L0.9,-6.00 L0.9,0.20 L3.7,-0.60 L0,6.00 L-3.7,-0.60 L-0.9,0.20 Z" fill="#000" opacity="0.35" transform="translate(1.0,0.5)" filter="url(#ab)"/><path d="M-0.9,-6.00 L0.9,-6.00 L0.9,0.20 L3.7,-0.60 L0,6.00 L-3.7,-0.60 L-0.9,0.20 Z" fill="#f6ecf6"/></g>
<g transform="translate(131.20,125.00) rotate(0.0)"><path d="M-0.9,-4.50 L0.9,-4.50 L0.9,-1.30 L3.7,-2.10 L0,4.50 L-3.7,-2.10 L-0.9,-1.30 Z" fill="#000" opacity="0.35" transform="translate(1.0,0.5)" filter="url(#ab)"/><path d="M-0.9,-4.50 L0.9,-4.50 L0.9,-1.30 L3.7,-2.10 L0,4.50 L-3.7,-2.10 L-0.9,-1.30 Z" fill="#f6ecf6"/></g>
<g transform="translate(139.75,135.00) rotate(0.0)"><path d="M-0.9,-4.50 L0.9,-4.50 L0.9,-1.30 L3.7,-2.10 L0,4.50 L-3.7,-2.10 L-0.9,-1.30 Z" fill="#000" opacity="0.35" transform="translate(1.0,0.5)" filter="url(#ab)"/><path d="M-0.9,-4.50 L0.9,-4.50 L0.9,-1.30 L3.7,-2.10 L0,4.50 L-3.7,-2.10 L-0.9,-1.30 Z" fill="#f6ecf6"/></g>
<g transform="translate(164.00,128.40) rotate(0.0)"><path d="M-0.9,-6.00 L0.9,-6.00 L0.9,0.20 L3.7,-0.60 L0,6.00 L-3.7,-0.60 L-0.9,0.20 Z" fill="#000" opacity="0.35" transform="translate(1.0,0.5)" filter="url(#ab)"/><path d="M-0.9,-6.00 L0.9,-6.00 L0.9,0.20 L3.7,-0.60 L0,6.00 L-3.7,-0.60 L-0.9,0.20 Z" fill="#f6ecf6"/></g>
<g transform="translate(187.70,130.60) rotate(0.0)"><path d="M-0.9,-6.00 L0.9,-6.00 L0.9,0.20 L3.7,-0.60 L0,6.00 L-3.7,-0.60 L-0.9,0.20 Z" fill="#000" opacity="0.35" transform="translate(1.0,0.5)" filter="url(#ab)"/><path d="M-0.9,-6.00 L0.9,-6.00 L0.9,0.20 L3.7,-0.60 L0,6.00 L-3.7,-0.60 L-0.9,0.20 Z" fill="#f6ecf6"/></g>
<g transform="translate(214.00,134.50) rotate(0.0)"><path d="M-0.9,-5.00 L0.9,-5.00 L0.9,-0.80 L3.7,-1.60 L0,5.00 L-3.7,-1.60 L-0.9,-0.80 Z" fill="#000" opacity="0.35" transform="translate(1.0,0.5)" filter="url(#ab)"/><path d="M-0.9,-5.00 L0.9,-5.00 L0.9,-0.80 L3.7,-1.60 L0,5.00 L-3.7,-1.60 L-0.9,-0.80 Z" fill="#f6ecf6"/></g>
<g transform="translate(224.00,145.70) rotate(0.0)"><path d="M-0.9,-4.50 L0.9,-4.50 L0.9,-1.30 L3.7,-2.10 L0,4.50 L-3.7,-2.10 L-0.9,-1.30 Z" fill="#000" opacity="0.35" transform="translate(1.0,0.5)" filter="url(#ab)"/><path d="M-0.9,-4.50 L0.9,-4.50 L0.9,-1.30 L3.7,-2.10 L0,4.50 L-3.7,-2.10 L-0.9,-1.30 Z" fill="#f6ecf6"/></g>
<g transform="translate(245.25,147.00) rotate(0.0)"><path d="M-0.9,-6.00 L0.9,-6.00 L0.9,0.20 L3.7,-0.60 L0,6.00 L-3.7,-0.60 L-0.9,0.20 Z" fill="#000" opacity="0.35" transform="translate(1.0,0.5)" filter="url(#ab)"/><path d="M-0.9,-6.00 L0.9,-6.00 L0.9,0.20 L3.7,-0.60 L0,6.00 L-3.7,-0.60 L-0.9,0.20 Z" fill="#f6ecf6"/></g>
<g transform="translate(261.50,149.50) rotate(0.0)"><path d="M-0.9,-6.00 L0.9,-6.00 L0.9,0.20 L3.7,-0.60 L0,6.00 L-3.7,-0.60 L-0.9,0.20 Z" fill="#000" opacity="0.35" transform="translate(1.0,0.5)" filter="url(#ab)"/><path d="M-0.9,-6.00 L0.9,-6.00 L0.9,0.20 L3.7,-0.60 L0,6.00 L-3.7,-0.60 L-0.9,0.20 Z" fill="#f6ecf6"/></g>
<g transform="translate(289.00,152.00) rotate(0.0)"><path d="M-0.9,-5.00 L0.9,-5.00 L0.9,-0.80 L3.7,-1.60 L0,5.00 L-3.7,-1.60 L-0.9,-0.80 Z" fill="#000" opacity="0.35" transform="translate(1.0,0.5)" filter="url(#ab)"/><path d="M-0.9,-5.00 L0.9,-5.00 L0.9,-0.80 L3.7,-1.60 L0,5.00 L-3.7,-1.60 L-0.9,-0.80 Z" fill="#f6ecf6"/></g>
<g transform="translate(300.25,163.00) rotate(0.0)"><path d="M-0.9,-4.50 L0.9,-4.50 L0.9,-1.30 L3.7,-2.10 L0,4.50 L-3.7,-2.10 L-0.9,-1.30 Z" fill="#000" opacity="0.35" transform="translate(1.0,0.5)" filter="url(#ab)"/><path d="M-0.9,-4.50 L0.9,-4.50 L0.9,-1.30 L3.7,-2.10 L0,4.50 L-3.7,-2.10 L-0.9,-1.30 Z" fill="#f6ecf6"/></g>
<g transform="translate(323.50,154.00) rotate(-35.0)"><path d="M-0.9,-6.00 L0.9,-6.00 L0.9,0.20 L3.7,-0.60 L0,6.00 L-3.7,-0.60 L-0.9,0.20 Z" fill="#000" opacity="0.35" transform="translate(1.0,0.5)" filter="url(#ab)"/><path d="M-0.9,-6.00 L0.9,-6.00 L0.9,0.20 L3.7,-0.60 L0,6.00 L-3.7,-0.60 L-0.9,0.20 Z" fill="#f6ecf6"/></g>
<g transform="translate(341.50,140.20) rotate(-35.0)"><path d="M-0.9,-6.00 L0.9,-6.00 L0.9,0.20 L3.7,-0.60 L0,6.00 L-3.7,-0.60 L-0.9,0.20 Z" fill="#000" opacity="0.35" transform="translate(1.0,0.5)" filter="url(#ab)"/><path d="M-0.9,-6.00 L0.9,-6.00 L0.9,0.20 L3.7,-0.60 L0,6.00 L-3.7,-0.60 L-0.9,0.20 Z" fill="#f6ecf6"/></g>
<g transform="translate(371.50,161.00) rotate(120.0)"><path d="M-0.9,-5.50 L0.9,-5.50 L0.9,-0.30 L3.7,-1.10 L0,5.50 L-3.7,-1.10 L-0.9,-0.30 Z" fill="#000" opacity="0.35" transform="translate(1.0,0.5)" filter="url(#ab)"/><path d="M-0.9,-5.50 L0.9,-5.50 L0.9,-0.30 L3.7,-1.10 L0,5.50 L-3.7,-1.10 L-0.9,-0.30 Z" fill="#f6ecf6"/></g>
<g transform="translate(349.00,187.00) rotate(120.0)"><path d="M-0.9,-5.50 L0.9,-5.50 L0.9,-0.30 L3.7,-1.10 L0,5.50 L-3.7,-1.10 L-0.9,-0.30 Z" fill="#000" opacity="0.35" transform="translate(1.0,0.5)" filter="url(#ab)"/><path d="M-0.9,-5.50 L0.9,-5.50 L0.9,-0.30 L3.7,-1.10 L0,5.50 L-3.7,-1.10 L-0.9,-0.30 Z" fill="#f6ecf6"/></g>
<g transform="translate(78.30,204.90) rotate(180.0)"><path d="M-0.9,-6.00 L0.9,-6.00 L0.9,0.20 L3.7,-0.60 L0,6.00 L-3.7,-0.60 L-0.9,0.20 Z" fill="#000" opacity="0.35" transform="translate(1.0,0.5)" filter="url(#ab)"/><path d="M-0.9,-6.00 L0.9,-6.00 L0.9,0.20 L3.7,-0.60 L0,6.00 L-3.7,-0.60 L-0.9,0.20 Z" fill="#f6ecf6"/></g>
<g transform="translate(103.75,199.25) rotate(180.0)"><path d="M-0.9,-6.00 L0.9,-6.00 L0.9,0.20 L3.7,-0.60 L0,6.00 L-3.7,-0.60 L-0.9,0.20 Z" fill="#000" opacity="0.35" transform="translate(1.0,0.5)" filter="url(#ab)"/><path d="M-0.9,-6.00 L0.9,-6.00 L0.9,0.20 L3.7,-0.60 L0,6.00 L-3.7,-0.60 L-0.9,0.20 Z" fill="#f6ecf6"/></g>
<g transform="translate(127.40,199.25) rotate(180.0)"><path d="M-0.9,-4.50 L0.9,-4.50 L0.9,-1.30 L3.7,-2.10 L0,4.50 L-3.7,-2.10 L-0.9,-1.30 Z" fill="#000" opacity="0.35" transform="translate(1.0,0.5)" filter="url(#ab)"/><path d="M-0.9,-4.50 L0.9,-4.50 L0.9,-1.30 L3.7,-2.10 L0,4.50 L-3.7,-2.10 L-0.9,-1.30 Z" fill="#f6ecf6"/></g>
<g transform="translate(135.25,189.00) rotate(180.0)"><path d="M-0.9,-4.50 L0.9,-4.50 L0.9,-1.30 L3.7,-2.10 L0,4.50 L-3.7,-2.10 L-0.9,-1.30 Z" fill="#000" opacity="0.35" transform="translate(1.0,0.5)" filter="url(#ab)"/><path d="M-0.9,-4.50 L0.9,-4.50 L0.9,-1.30 L3.7,-2.10 L0,4.50 L-3.7,-2.10 L-0.9,-1.30 Z" fill="#f6ecf6"/></g>
<g transform="translate(162.25,191.40) rotate(180.0)"><path d="M-0.9,-6.00 L0.9,-6.00 L0.9,0.20 L3.7,-0.60 L0,6.00 L-3.7,-0.60 L-0.9,0.20 Z" fill="#000" opacity="0.35" transform="translate(1.0,0.5)" filter="url(#ab)"/><path d="M-0.9,-6.00 L0.9,-6.00 L0.9,0.20 L3.7,-0.60 L0,6.00 L-3.7,-0.60 L-0.9,0.20 Z" fill="#f6ecf6"/></g>
<g transform="translate(184.75,193.60) rotate(180.0)"><path d="M-0.9,-6.00 L0.9,-6.00 L0.9,0.20 L3.7,-0.60 L0,6.00 L-3.7,-0.60 L-0.9,0.20 Z" fill="#000" opacity="0.35" transform="translate(1.0,0.5)" filter="url(#ab)"/><path d="M-0.9,-6.00 L0.9,-6.00 L0.9,0.20 L3.7,-0.60 L0,6.00 L-3.7,-0.60 L-0.9,0.20 Z" fill="#f6ecf6"/></g>
<g transform="translate(207.75,202.00) rotate(180.0)"><path d="M-0.9,-5.00 L0.9,-5.00 L0.9,-0.80 L3.7,-1.60 L0,5.00 L-3.7,-1.60 L-0.9,-0.80 Z" fill="#000" opacity="0.35" transform="translate(1.0,0.5)" filter="url(#ab)"/><path d="M-0.9,-5.00 L0.9,-5.00 L0.9,-0.80 L3.7,-1.60 L0,5.00 L-3.7,-1.60 L-0.9,-0.80 Z" fill="#f6ecf6"/></g>
<g transform="translate(217.75,197.00) rotate(180.0)"><path d="M-0.9,-4.50 L0.9,-4.50 L0.9,-1.30 L3.7,-2.10 L0,4.50 L-3.7,-2.10 L-0.9,-1.30 Z" fill="#000" opacity="0.35" transform="translate(1.0,0.5)" filter="url(#ab)"/><path d="M-0.9,-4.50 L0.9,-4.50 L0.9,-1.30 L3.7,-2.10 L0,4.50 L-3.7,-2.10 L-0.9,-1.30 Z" fill="#f6ecf6"/></g>
<g transform="translate(240.25,202.00) rotate(180.0)"><path d="M-0.9,-6.00 L0.9,-6.00 L0.9,0.20 L3.7,-0.60 L0,6.00 L-3.7,-0.60 L-0.9,0.20 Z" fill="#000" opacity="0.35" transform="translate(1.0,0.5)" filter="url(#ab)"/><path d="M-0.9,-6.00 L0.9,-6.00 L0.9,0.20 L3.7,-0.60 L0,6.00 L-3.7,-0.60 L-0.9,0.20 Z" fill="#f6ecf6"/></g>
<g transform="translate(266.50,203.25) rotate(180.0)"><path d="M-0.9,-6.00 L0.9,-6.00 L0.9,0.20 L3.7,-0.60 L0,6.00 L-3.7,-0.60 L-0.9,0.20 Z" fill="#000" opacity="0.35" transform="translate(1.0,0.5)" filter="url(#ab)"/><path d="M-0.9,-6.00 L0.9,-6.00 L0.9,0.20 L3.7,-0.60 L0,6.00 L-3.7,-0.60 L-0.9,0.20 Z" fill="#f6ecf6"/></g>
<g transform="translate(289.00,208.25) rotate(180.0)"><path d="M-0.9,-5.00 L0.9,-5.00 L0.9,-0.80 L3.7,-1.60 L0,5.00 L-3.7,-1.60 L-0.9,-0.80 Z" fill="#000" opacity="0.35" transform="translate(1.0,0.5)" filter="url(#ab)"/><path d="M-0.9,-5.00 L0.9,-5.00 L0.9,-0.80 L3.7,-1.60 L0,5.00 L-3.7,-1.60 L-0.9,-0.80 Z" fill="#f6ecf6"/></g>
<g transform="translate(292.75,198.25) rotate(180.0)"><path d="M-0.9,-4.50 L0.9,-4.50 L0.9,-1.30 L3.7,-2.10 L0,4.50 L-3.7,-2.10 L-0.9,-1.30 Z" fill="#000" opacity="0.35" transform="translate(1.0,0.5)" filter="url(#ab)"/><path d="M-0.9,-4.50 L0.9,-4.50 L0.9,-1.30 L3.7,-2.10 L0,4.50 L-3.7,-2.10 L-0.9,-1.30 Z" fill="#f6ecf6"/></g>
<g transform="translate(327.75,210.75) rotate(180.0)"><path d="M-0.9,-5.50 L0.9,-5.50 L0.9,-0.30 L3.7,-1.10 L0,5.50 L-3.7,-1.10 L-0.9,-0.30 Z" fill="#000" opacity="0.35" transform="translate(1.0,0.5)" filter="url(#ab)"/><path d="M-0.9,-5.50 L0.9,-5.50 L0.9,-0.30 L3.7,-1.10 L0,5.50 L-3.7,-1.10 L-0.9,-0.30 Z" fill="#f6ecf6"/></g>
<path d="M43.80,139.50 L130.00,141.90 C133.12,141.79 142.50,141.67 148.75,141.25 C155.00,140.83 161.88,139.61 167.50,139.40 C173.12,139.19 178.33,139.28 182.50,140.00 C186.67,140.72 188.75,142.29 192.50,143.75 C196.25,145.21 198.75,147.29 205.00,148.75 C211.25,150.21 221.83,150.96 230.00,152.50 C238.17,154.04 247.33,156.17 254.00,158.00 C260.67,159.83 265.33,162.38 270.00,163.50 C274.67,164.62 277.83,164.12 282.00,164.70 C286.17,165.28 290.67,166.12 295.00,167.00 C299.33,167.88 304.33,169.67 308.00,170.00 C311.67,170.33 314.00,170.08 317.00,169.00 C320.00,167.92 323.00,165.47 326.00,163.50 C329.00,161.53 332.42,159.03 335.00,157.20 C337.58,155.37 338.58,154.58 341.50,152.50 C344.42,150.42 349.33,146.73 352.50,144.70 C355.67,142.67 358.58,141.28 360.50,140.30 C362.42,139.32 362.83,138.88 364.00,138.80 C365.17,138.72 366.62,139.07 367.50,139.80 C368.38,140.53 369.10,141.67 369.30,143.20 C369.50,144.73 369.08,147.00 368.70,149.00 C368.32,151.00 368.12,152.95 367.00,155.20 C365.88,157.45 364.10,160.45 362.00,162.50 C359.90,164.55 357.02,165.58 354.40,167.50 C351.78,169.42 348.62,171.47 346.30,174.00 C343.98,176.53 341.88,180.03 340.50,182.70 C339.12,185.37 338.62,187.87 338.00,190.00 C337.38,192.13 337.63,193.75 336.80,195.50 C335.97,197.25 334.47,199.50 333.00,200.50 C331.53,201.50 329.67,201.58 328.00,201.50 C326.33,201.42 325.17,200.75 323.00,200.00 C320.83,199.25 318.00,198.00 315.00,197.00 C312.00,196.00 309.17,194.75 305.00,194.00 C300.83,193.25 295.83,192.67 290.00,192.50 C284.17,192.33 280.00,193.10 270.00,193.00 C260.00,192.90 240.83,192.61 230.00,191.90 C219.17,191.19 212.29,190.32 205.00,188.75 C197.71,187.18 191.46,184.06 186.25,182.50 C181.04,180.94 178.96,179.82 173.75,179.40 C168.54,178.98 161.29,179.80 155.00,180.00 C148.71,180.20 139.17,180.50 136.00,180.60 L41.20,196.50 L43.80,139.50 Z" fill="#f7eada" stroke="#111" stroke-width="2.00" stroke-linejoin="round" filter="url(#sh)"/>
<g transform="translate(58.00,154.00) rotate(0.0)"><path d="M-6.6,0 L0.8,-4.2 L-0.2,-1.2 L6.3,-1.2 L6.3,1.2 L-0.2,1.2 L0.8,4.2 Z" fill="#b31b24" stroke="#94131b" stroke-width="0.35" stroke-linejoin="round"/></g>
<g transform="translate(89.00,152.50) rotate(0.0)"><path d="M-6.6,0 L0.8,-4.2 L-0.2,-1.2 L6.3,-1.2 L6.3,1.2 L-0.2,1.2 L0.8,4.2 Z" fill="#b31b24" stroke="#94131b" stroke-width="0.35" stroke-linejoin="round"/></g>
<g transform="translate(130.00,150.50) rotate(0.0)"><path d="M-6.6,0 L0.8,-4.2 L-0.2,-1.2 L6.3,-1.2 L6.3,1.2 L-0.2,1.2 L0.8,4.2 Z" fill="#b31b24" stroke="#94131b" stroke-width="0.35" stroke-linejoin="round"/></g>
<g transform="translate(171.00,148.70) rotate(0.0)"><path d="M-6.6,0 L0.8,-4.2 L-0.2,-1.2 L6.3,-1.2 L6.3,1.2 L-0.2,1.2 L0.8,4.2 Z" fill="#b31b24" stroke="#94131b" stroke-width="0.35" stroke-linejoin="round"/></g>
<g transform="translate(70.00,167.50) rotate(0.0)"><path d="M-6.6,0 L0.8,-4.2 L-0.2,-1.2 L6.3,-1.2 L6.3,1.2 L-0.2,1.2 L0.8,4.2 Z" fill="#b31b24" stroke="#94131b" stroke-width="0.35" stroke-linejoin="round"/></g>
<g transform="translate(110.00,165.80) rotate(0.0)"><path d="M-6.6,0 L0.8,-4.2 L-0.2,-1.2 L6.3,-1.2 L6.3,1.2 L-0.2,1.2 L0.8,4.2 Z" fill="#b31b24" stroke="#94131b" stroke-width="0.35" stroke-linejoin="round"/></g>
<g transform="translate(150.00,161.00) rotate(0.0)"><path d="M-6.6,0 L0.8,-4.2 L-0.2,-1.2 L6.3,-1.2 L6.3,1.2 L-0.2,1.2 L0.8,4.2 Z" fill="#b31b24" stroke="#94131b" stroke-width="0.35" stroke-linejoin="round"/></g>
<g transform="translate(192.00,166.00) rotate(0.0)"><path d="M-6.6,0 L0.8,-4.2 L-0.2,-1.2 L6.3,-1.2 L6.3,1.2 L-0.2,1.2 L0.8,4.2 Z" fill="#b31b24" stroke="#94131b" stroke-width="0.35" stroke-linejoin="round"/></g>
<g transform="translate(211.00,160.50) rotate(0.0)"><path d="M-6.6,0 L0.8,-4.2 L-0.2,-1.2 L6.3,-1.2 L6.3,1.2 L-0.2,1.2 L0.8,4.2 Z" fill="#b31b24" stroke="#94131b" stroke-width="0.35" stroke-linejoin="round"/></g>
<g transform="translate(57.80,184.00) rotate(0.0)"><path d="M-6.6,0 L0.8,-4.2 L-0.2,-1.2 L6.3,-1.2 L6.3,1.2 L-0.2,1.2 L0.8,4.2 Z" fill="#b31b24" stroke="#94131b" stroke-width="0.35" stroke-linejoin="round"/></g>
<g transform="translate(90.00,179.00) rotate(0.0)"><path d="M-6.6,0 L0.8,-4.2 L-0.2,-1.2 L6.3,-1.2 L6.3,1.2 L-0.2,1.2 L0.8,4.2 Z" fill="#b31b24" stroke="#94131b" stroke-width="0.35" stroke-linejoin="round"/></g>
<g transform="translate(131.00,174.50) rotate(0.0)"><path d="M-6.6,0 L0.8,-4.2 L-0.2,-1.2 L6.3,-1.2 L6.3,1.2 L-0.2,1.2 L0.8,4.2 Z" fill="#b31b24" stroke="#94131b" stroke-width="0.35" stroke-linejoin="round"/></g>
<g transform="translate(170.00,170.50) rotate(0.0)"><path d="M-6.6,0 L0.8,-4.2 L-0.2,-1.2 L6.3,-1.2 L6.3,1.2 L-0.2,1.2 L0.8,4.2 Z" fill="#b31b24" stroke="#94131b" stroke-width="0.35" stroke-linejoin="round"/></g>
<g transform="translate(227.50,177.00) rotate(0.0)"><path d="M-6.6,0 L0.8,-4.2 L-0.2,-1.2 L6.3,-1.2 L6.3,1.2 L-0.2,1.2 L0.8,4.2 Z" fill="#b31b24" stroke="#94131b" stroke-width="0.35" stroke-linejoin="round"/></g>
<g transform="translate(246.50,169.50) rotate(0.0)"><path d="M-6.6,0 L0.8,-4.2 L-0.2,-1.2 L6.3,-1.2 L6.3,1.2 L-0.2,1.2 L0.8,4.2 Z" fill="#b31b24" stroke="#94131b" stroke-width="0.35" stroke-linejoin="round"/></g>
<g transform="translate(263.00,183.50) rotate(0.0)"><path d="M-6.6,0 L0.8,-4.2 L-0.2,-1.2 L6.3,-1.2 L6.3,1.2 L-0.2,1.2 L0.8,4.2 Z" fill="#b31b24" stroke="#94131b" stroke-width="0.35" stroke-linejoin="round"/></g>
<g transform="translate(284.50,174.80) rotate(0.0)"><path d="M-6.6,0 L0.8,-4.2 L-0.2,-1.2 L6.3,-1.2 L6.3,1.2 L-0.2,1.2 L0.8,4.2 Z" fill="#b31b24" stroke="#94131b" stroke-width="0.35" stroke-linejoin="round"/></g>
<g transform="translate(303.00,185.00) rotate(0.0)"><path d="M-6.6,0 L0.8,-4.2 L-0.2,-1.2 L6.3,-1.2 L6.3,1.2 L-0.2,1.2 L0.8,4.2 Z" fill="#b31b24" stroke="#94131b" stroke-width="0.35" stroke-linejoin="round"/></g>
<g transform="translate(324.00,174.50) rotate(-35.0)"><path d="M-6.6,0 L0.8,-4.2 L-0.2,-1.2 L6.3,-1.2 L6.3,1.2 L-0.2,1.2 L0.8,4.2 Z" fill="#b31b24" stroke="#94131b" stroke-width="0.35" stroke-linejoin="round"/></g>
<g transform="translate(343.00,168.00) rotate(-35.0)"><path d="M-6.6,0 L0.8,-4.2 L-0.2,-1.2 L6.3,-1.2 L6.3,1.2 L-0.2,1.2 L0.8,4.2 Z" fill="#b31b24" stroke="#94131b" stroke-width="0.35" stroke-linejoin="round"/></g>
<g transform="translate(353.50,153.50) rotate(-40.0)"><path d="M-6.6,0 L0.8,-4.2 L-0.2,-1.2 L6.3,-1.2 L6.3,1.2 L-0.2,1.2 L0.8,4.2 Z" fill="#b31b24" stroke="#94131b" stroke-width="0.35" stroke-linejoin="round"/></g>
<g transform="translate(326.00,190.00) rotate(-12.0)"><path d="M-6.6,0 L0.8,-4.2 L-0.2,-1.2 L6.3,-1.2 L6.3,1.2 L-0.2,1.2 L0.8,4.2 Z" fill="#b31b24" stroke="#94131b" stroke-width="0.35" stroke-linejoin="round"/></g>
</g>

<path d="M499,104.6 C472,74 425,61 385,63.5 C362,65.5 346,72 334,80" fill="none" stroke="#555" stroke-width="3"/>
<path d="M301,104.6 C312,85 320,68 325.2,50.5 C328,65 332,75 334,80 C342,88 350,93 358.75,96.4 C340,96 318,99 301,104.6 Z" fill="#555"/>
<path d="M300.5,639.8 C320,668 360,682 400,680.5 C425,679 450,672 466,664" fill="none" stroke="#555" stroke-width="3"/>
<path d="M499.6,639.8 C480,648 460,650 440.7,648.3 C452,654 460,659 466,664 C470,675 473,685 475.6,694.25 C480,675 488,655 499.6,639.8 Z" fill="#555"/>

</svg>
<div class="t" id="txt">F = C + D</div>
</body></html>
